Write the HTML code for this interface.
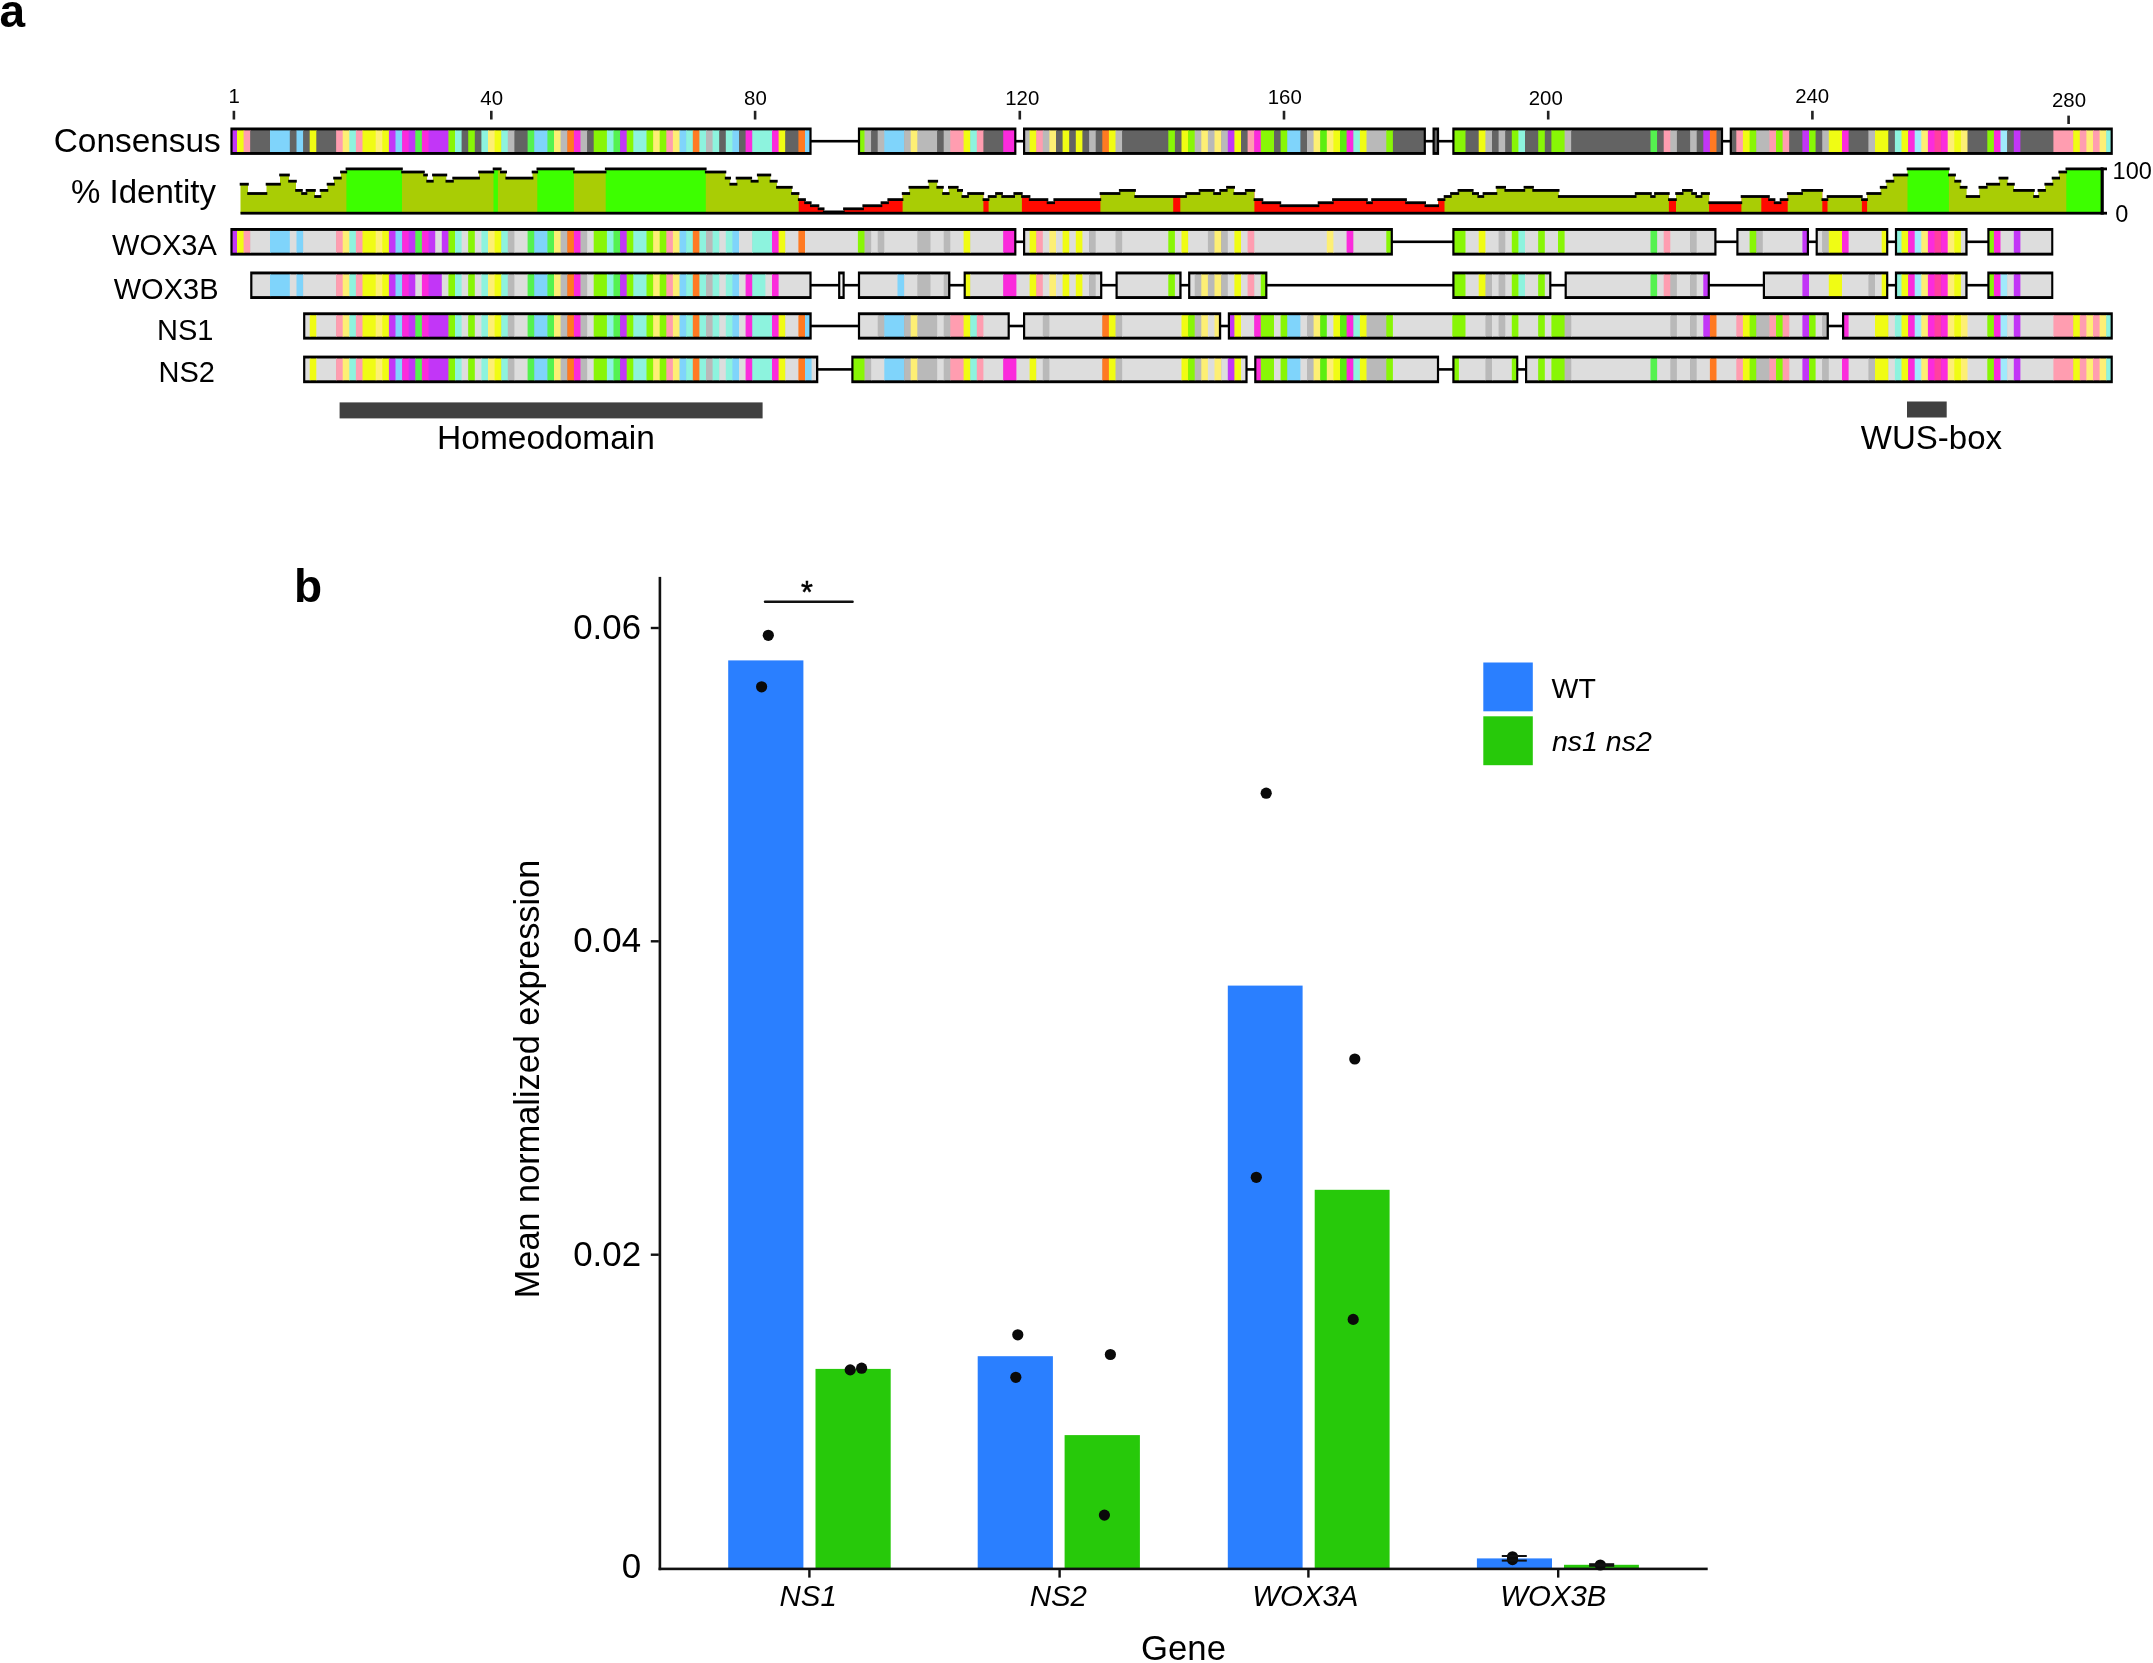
<!DOCTYPE html>
<html lang="en"><head><meta charset="utf-8"><title>Figure</title>
<style>html,body{margin:0;padding:0;background:#fff}svg{display:block;filter:blur(0.45px)}text{font-family:"Liberation Sans", Arial, Helvetica, sans-serif;fill:#000}</style>
</head><body>
<svg width="2153" height="1663" viewBox="0 0 2153 1663">
<rect width="2153" height="1663" fill="#fff"/>
<text x="-0.4" y="27.2" font-size="46" font-weight="bold">a</text>
<text x="234.2" y="103" font-size="20.4" text-anchor="middle">1</text>
<rect x="232.6" y="110.8" width="2.6" height="8.7" fill="#222"/>
<text x="491.7" y="105" font-size="20.4" text-anchor="middle">40</text>
<rect x="490" y="110.8" width="2.6" height="8.7" fill="#222"/>
<text x="755.4" y="105" font-size="20.4" text-anchor="middle">80</text>
<rect x="753.8" y="110.8" width="2.6" height="8.7" fill="#222"/>
<text x="1022.3" y="105.4" font-size="20.4" text-anchor="middle">120</text>
<rect x="1018.5" y="110.8" width="2.6" height="8.7" fill="#222"/>
<text x="1284.8" y="103.5" font-size="20.4" text-anchor="middle">160</text>
<rect x="1282.7" y="110.8" width="2.6" height="8.7" fill="#222"/>
<text x="1545.8" y="105" font-size="20.4" text-anchor="middle">200</text>
<rect x="1546.9" y="110.8" width="2.6" height="8.7" fill="#222"/>
<text x="1812.2" y="102.7" font-size="20.4" text-anchor="middle">240</text>
<rect x="1811.1" y="110.8" width="2.6" height="8.7" fill="#222"/>
<text x="2069" y="107.2" font-size="20.4" text-anchor="middle">280</text>
<rect x="2067.3" y="115.6" width="2.6" height="8.4" fill="#222"/>
<text x="220.8" y="151.6" font-size="33.4" text-anchor="end">Consensus</text>
<text x="216" y="202.6" font-size="33" text-anchor="end">% Identity</text>
<text x="216.8" y="255.4" font-size="29" text-anchor="end">WOX3A</text>
<text x="218.5" y="298.6" font-size="29" text-anchor="end">WOX3B</text>
<text x="213.5" y="339.6" font-size="29" text-anchor="end">NS1</text>
<text x="215" y="381.6" font-size="29" text-anchor="end">NS2</text>
<g>
<rect x="810.6" y="139.9" width="48.2" height="2.6" fill="#000"/>
<rect x="1015.4" y="139.9" width="8.6" height="2.6" fill="#000"/>
<rect x="1424.9" y="139.9" width="8.6" height="2.6" fill="#000"/>
<rect x="1438.1" y="139.9" width="15.2" height="2.6" fill="#000"/>
<rect x="1722.1" y="139.9" width="8.6" height="2.6" fill="#000"/>
<rect x="230.4" y="127.5" width="581.2" height="27.4" fill="#000"/>
<rect x="232.6" y="130.4" width="5.1" height="21.6" fill="#c236f7"/>
<rect x="237" y="130.4" width="7.3" height="21.6" fill="#f0fc14"/>
<rect x="243.6" y="130.4" width="7.3" height="21.6" fill="#ff9db0"/>
<rect x="250.2" y="130.4" width="20.5" height="21.6" fill="#636363"/>
<rect x="270" y="130.4" width="20.5" height="21.6" fill="#7fd4fb"/>
<rect x="289.8" y="130.4" width="7.3" height="21.6" fill="#636363"/>
<rect x="296.5" y="130.4" width="7.3" height="21.6" fill="#7fd4fb"/>
<rect x="303.1" y="130.4" width="7.3" height="21.6" fill="#636363"/>
<rect x="309.7" y="130.4" width="7.3" height="21.6" fill="#f0fc14"/>
<rect x="316.3" y="130.4" width="20.5" height="21.6" fill="#636363"/>
<rect x="336.1" y="130.4" width="7.3" height="21.6" fill="#ff9db0"/>
<rect x="342.7" y="130.4" width="7.3" height="21.6" fill="#fdef74"/>
<rect x="349.3" y="130.4" width="7.3" height="21.6" fill="#8df3de"/>
<rect x="355.9" y="130.4" width="7.3" height="21.6" fill="#ff9db0"/>
<rect x="362.5" y="130.4" width="13.9" height="21.6" fill="#f0fc14"/>
<rect x="375.7" y="130.4" width="7.3" height="21.6" fill="#fdef74"/>
<rect x="382.3" y="130.4" width="7.3" height="21.6" fill="#f0fc14"/>
<rect x="388.9" y="130.4" width="7.3" height="21.6" fill="#c236f7"/>
<rect x="395.5" y="130.4" width="7.3" height="21.6" fill="#7fd4fb"/>
<rect x="402.1" y="130.4" width="7.3" height="21.6" fill="#fb2bdc"/>
<rect x="408.7" y="130.4" width="7.3" height="21.6" fill="#c236f7"/>
<rect x="415.3" y="130.4" width="7.3" height="21.6" fill="#55f24f"/>
<rect x="421.9" y="130.4" width="7.3" height="21.6" fill="#fb2bdc"/>
<rect x="428.6" y="130.4" width="20.5" height="21.6" fill="#c236f7"/>
<rect x="448.4" y="130.4" width="7.3" height="21.6" fill="#88f606"/>
<rect x="455" y="130.4" width="7.3" height="21.6" fill="#8df3de"/>
<rect x="461.6" y="130.4" width="7.3" height="21.6" fill="#636363"/>
<rect x="468.2" y="130.4" width="7.3" height="21.6" fill="#88f606"/>
<rect x="474.8" y="130.4" width="7.3" height="21.6" fill="#636363"/>
<rect x="481.4" y="130.4" width="7.3" height="21.6" fill="#8df3de"/>
<rect x="488" y="130.4" width="7.3" height="21.6" fill="#fdef74"/>
<rect x="494.6" y="130.4" width="7.3" height="21.6" fill="#f0fc14"/>
<rect x="501.2" y="130.4" width="7.3" height="21.6" fill="#8df3de"/>
<rect x="507.8" y="130.4" width="7.3" height="21.6" fill="#b9b9b9"/>
<rect x="514.4" y="130.4" width="13.9" height="21.6" fill="#636363"/>
<rect x="527.6" y="130.4" width="7.3" height="21.6" fill="#55f24f"/>
<rect x="534.2" y="130.4" width="13.9" height="21.6" fill="#7fd4fb"/>
<rect x="547.4" y="130.4" width="7.3" height="21.6" fill="#55f24f"/>
<rect x="554" y="130.4" width="7.3" height="21.6" fill="#fdef74"/>
<rect x="560.6" y="130.4" width="7.3" height="21.6" fill="#b9b9b9"/>
<rect x="567.3" y="130.4" width="7.3" height="21.6" fill="#ff7a22"/>
<rect x="573.9" y="130.4" width="7.3" height="21.6" fill="#fb2bdc"/>
<rect x="580.5" y="130.4" width="7.3" height="21.6" fill="#b9b9b9"/>
<rect x="587.1" y="130.4" width="7.3" height="21.6" fill="#636363"/>
<rect x="593.7" y="130.4" width="13.9" height="21.6" fill="#88f606"/>
<rect x="606.9" y="130.4" width="7.3" height="21.6" fill="#8df3de"/>
<rect x="613.5" y="130.4" width="7.3" height="21.6" fill="#55f24f"/>
<rect x="620.1" y="130.4" width="7.3" height="21.6" fill="#c236f7"/>
<rect x="626.7" y="130.4" width="7.3" height="21.6" fill="#88f606"/>
<rect x="633.3" y="130.4" width="13.9" height="21.6" fill="#8df3de"/>
<rect x="646.5" y="130.4" width="7.3" height="21.6" fill="#88f606"/>
<rect x="653.1" y="130.4" width="7.3" height="21.6" fill="#fdef74"/>
<rect x="659.7" y="130.4" width="7.3" height="21.6" fill="#88f606"/>
<rect x="666.3" y="130.4" width="7.3" height="21.6" fill="#ff9db0"/>
<rect x="672.9" y="130.4" width="7.3" height="21.6" fill="#fdef74"/>
<rect x="679.5" y="130.4" width="7.3" height="21.6" fill="#7fd4fb"/>
<rect x="686.1" y="130.4" width="7.3" height="21.6" fill="#8df3de"/>
<rect x="692.8" y="130.4" width="7.3" height="21.6" fill="#ff7a22"/>
<rect x="699.4" y="130.4" width="7.3" height="21.6" fill="#8df3de"/>
<rect x="706" y="130.4" width="7.3" height="21.6" fill="#b9b9b9"/>
<rect x="712.6" y="130.4" width="7.3" height="21.6" fill="#8df3de"/>
<rect x="719.2" y="130.4" width="7.3" height="21.6" fill="#636363"/>
<rect x="725.8" y="130.4" width="7.3" height="21.6" fill="#8df3de"/>
<rect x="732.4" y="130.4" width="7.3" height="21.6" fill="#7fd4fb"/>
<rect x="739" y="130.4" width="7.3" height="21.6" fill="#636363"/>
<rect x="745.6" y="130.4" width="7.3" height="21.6" fill="#fb2bdc"/>
<rect x="752.2" y="130.4" width="20.5" height="21.6" fill="#8df3de"/>
<rect x="772" y="130.4" width="7.3" height="21.6" fill="#fb2bdc"/>
<rect x="778.6" y="130.4" width="7.3" height="21.6" fill="#f0fc14"/>
<rect x="785.2" y="130.4" width="13.9" height="21.6" fill="#636363"/>
<rect x="798.4" y="130.4" width="7.3" height="21.6" fill="#ff7a22"/>
<rect x="805" y="130.4" width="4.4" height="21.6" fill="#7fd4fb"/>
<rect x="857.9" y="127.5" width="158.5" height="27.4" fill="#000"/>
<rect x="860.1" y="130.4" width="5.1" height="21.6" fill="#88f606"/>
<rect x="864.5" y="130.4" width="7.3" height="21.6" fill="#b9b9b9"/>
<rect x="871.1" y="130.4" width="7.3" height="21.6" fill="#636363"/>
<rect x="877.7" y="130.4" width="7.3" height="21.6" fill="#b9b9b9"/>
<rect x="884.3" y="130.4" width="20.5" height="21.6" fill="#7fd4fb"/>
<rect x="904.1" y="130.4" width="7.3" height="21.6" fill="#b9b9b9"/>
<rect x="910.7" y="130.4" width="7.3" height="21.6" fill="#fdef74"/>
<rect x="917.3" y="130.4" width="20.5" height="21.6" fill="#b9b9b9"/>
<rect x="937.1" y="130.4" width="7.3" height="21.6" fill="#636363"/>
<rect x="943.7" y="130.4" width="7.3" height="21.6" fill="#b9b9b9"/>
<rect x="950.3" y="130.4" width="13.9" height="21.6" fill="#ff9db0"/>
<rect x="963.6" y="130.4" width="7.3" height="21.6" fill="#f0fc14"/>
<rect x="970.2" y="130.4" width="7.3" height="21.6" fill="#8df3de"/>
<rect x="976.8" y="130.4" width="7.3" height="21.6" fill="#ff9db0"/>
<rect x="983.4" y="130.4" width="20.5" height="21.6" fill="#636363"/>
<rect x="1003.2" y="130.4" width="11" height="21.6" fill="#fb2bdc"/>
<rect x="1023" y="127.5" width="402.9" height="27.4" fill="#000"/>
<rect x="1025.2" y="130.4" width="5.1" height="21.6" fill="#b9b9b9"/>
<rect x="1029.6" y="130.4" width="7.3" height="21.6" fill="#f0fc14"/>
<rect x="1036.2" y="130.4" width="7.3" height="21.6" fill="#ff9db0"/>
<rect x="1042.8" y="130.4" width="7.3" height="21.6" fill="#b9b9b9"/>
<rect x="1049.4" y="130.4" width="7.3" height="21.6" fill="#fdef74"/>
<rect x="1056" y="130.4" width="7.3" height="21.6" fill="#636363"/>
<rect x="1062.6" y="130.4" width="7.3" height="21.6" fill="#f0fc14"/>
<rect x="1069.2" y="130.4" width="7.3" height="21.6" fill="#636363"/>
<rect x="1075.8" y="130.4" width="7.3" height="21.6" fill="#f0fc14"/>
<rect x="1082.4" y="130.4" width="7.3" height="21.6" fill="#636363"/>
<rect x="1089.1" y="130.4" width="7.3" height="21.6" fill="#b9b9b9"/>
<rect x="1095.7" y="130.4" width="7.3" height="21.6" fill="#636363"/>
<rect x="1102.3" y="130.4" width="7.3" height="21.6" fill="#ff7a22"/>
<rect x="1108.9" y="130.4" width="7.3" height="21.6" fill="#f0fc14"/>
<rect x="1115.5" y="130.4" width="7.3" height="21.6" fill="#b9b9b9"/>
<rect x="1122.1" y="130.4" width="46.9" height="21.6" fill="#636363"/>
<rect x="1168.3" y="130.4" width="7.3" height="21.6" fill="#88f606"/>
<rect x="1174.9" y="130.4" width="7.3" height="21.6" fill="#636363"/>
<rect x="1181.5" y="130.4" width="7.3" height="21.6" fill="#f0fc14"/>
<rect x="1188.1" y="130.4" width="7.3" height="21.6" fill="#88f606"/>
<rect x="1194.7" y="130.4" width="7.3" height="21.6" fill="#b9b9b9"/>
<rect x="1201.3" y="130.4" width="7.3" height="21.6" fill="#fdef74"/>
<rect x="1207.9" y="130.4" width="7.3" height="21.6" fill="#b9b9b9"/>
<rect x="1214.5" y="130.4" width="7.3" height="21.6" fill="#fdef74"/>
<rect x="1221.2" y="130.4" width="7.3" height="21.6" fill="#b9b9b9"/>
<rect x="1227.8" y="130.4" width="7.3" height="21.6" fill="#c236f7"/>
<rect x="1234.4" y="130.4" width="7.3" height="21.6" fill="#f0fc14"/>
<rect x="1241" y="130.4" width="7.3" height="21.6" fill="#636363"/>
<rect x="1247.6" y="130.4" width="7.3" height="21.6" fill="#ff9db0"/>
<rect x="1254.2" y="130.4" width="7.3" height="21.6" fill="#fb2bdc"/>
<rect x="1260.8" y="130.4" width="13.9" height="21.6" fill="#88f606"/>
<rect x="1274" y="130.4" width="7.3" height="21.6" fill="#636363"/>
<rect x="1280.6" y="130.4" width="7.3" height="21.6" fill="#88f606"/>
<rect x="1287.2" y="130.4" width="13.9" height="21.6" fill="#7fd4fb"/>
<rect x="1300.4" y="130.4" width="7.3" height="21.6" fill="#636363"/>
<rect x="1307" y="130.4" width="7.3" height="21.6" fill="#b9b9b9"/>
<rect x="1313.6" y="130.4" width="7.3" height="21.6" fill="#fdef74"/>
<rect x="1320.2" y="130.4" width="7.3" height="21.6" fill="#5cee10"/>
<rect x="1326.8" y="130.4" width="7.3" height="21.6" fill="#fdef74"/>
<rect x="1333.4" y="130.4" width="7.3" height="21.6" fill="#f0fc14"/>
<rect x="1340" y="130.4" width="7.3" height="21.6" fill="#5cee10"/>
<rect x="1346.6" y="130.4" width="7.3" height="21.6" fill="#fb2bdc"/>
<rect x="1353.3" y="130.4" width="7.3" height="21.6" fill="#8df3de"/>
<rect x="1359.9" y="130.4" width="7.3" height="21.6" fill="#f0fc14"/>
<rect x="1366.5" y="130.4" width="20.5" height="21.6" fill="#b9b9b9"/>
<rect x="1386.3" y="130.4" width="7.3" height="21.6" fill="#88f606"/>
<rect x="1392.9" y="130.4" width="30.8" height="21.6" fill="#636363"/>
<rect x="1432.5" y="127.5" width="6.6" height="27.4" fill="#000"/>
<rect x="1434.7" y="130.4" width="2.2" height="21.6" fill="#636363"/>
<rect x="1452.3" y="127.5" width="270.8" height="27.4" fill="#000"/>
<rect x="1454.5" y="130.4" width="11.7" height="21.6" fill="#88f606"/>
<rect x="1465.5" y="130.4" width="13.9" height="21.6" fill="#636363"/>
<rect x="1478.7" y="130.4" width="7.3" height="21.6" fill="#f0fc14"/>
<rect x="1485.4" y="130.4" width="7.3" height="21.6" fill="#b9b9b9"/>
<rect x="1492" y="130.4" width="7.3" height="21.6" fill="#636363"/>
<rect x="1498.6" y="130.4" width="7.3" height="21.6" fill="#b9b9b9"/>
<rect x="1505.2" y="130.4" width="7.3" height="21.6" fill="#636363"/>
<rect x="1511.8" y="130.4" width="7.3" height="21.6" fill="#88f606"/>
<rect x="1518.4" y="130.4" width="7.3" height="21.6" fill="#8df3de"/>
<rect x="1525" y="130.4" width="13.9" height="21.6" fill="#636363"/>
<rect x="1538.2" y="130.4" width="7.3" height="21.6" fill="#88f606"/>
<rect x="1544.8" y="130.4" width="7.3" height="21.6" fill="#636363"/>
<rect x="1551.4" y="130.4" width="13.9" height="21.6" fill="#88f606"/>
<rect x="1564.6" y="130.4" width="7.3" height="21.6" fill="#b9b9b9"/>
<rect x="1571.2" y="130.4" width="80" height="21.6" fill="#636363"/>
<rect x="1650.5" y="130.4" width="7.3" height="21.6" fill="#55f24f"/>
<rect x="1657.1" y="130.4" width="7.3" height="21.6" fill="#636363"/>
<rect x="1663.7" y="130.4" width="7.3" height="21.6" fill="#ff9db0"/>
<rect x="1670.3" y="130.4" width="7.3" height="21.6" fill="#b9b9b9"/>
<rect x="1676.9" y="130.4" width="13.9" height="21.6" fill="#636363"/>
<rect x="1690.1" y="130.4" width="7.3" height="21.6" fill="#b9b9b9"/>
<rect x="1696.7" y="130.4" width="7.3" height="21.6" fill="#636363"/>
<rect x="1703.3" y="130.4" width="7.3" height="21.6" fill="#c236f7"/>
<rect x="1709.9" y="130.4" width="7.3" height="21.6" fill="#ff7a22"/>
<rect x="1716.5" y="130.4" width="4.4" height="21.6" fill="#636363"/>
<rect x="1729.7" y="127.5" width="383.1" height="27.4" fill="#000"/>
<rect x="1731.9" y="130.4" width="5.1" height="21.6" fill="#636363"/>
<rect x="1736.3" y="130.4" width="7.3" height="21.6" fill="#ff9db0"/>
<rect x="1742.9" y="130.4" width="7.3" height="21.6" fill="#f0fc14"/>
<rect x="1749.6" y="130.4" width="7.3" height="21.6" fill="#88f606"/>
<rect x="1756.2" y="130.4" width="13.9" height="21.6" fill="#b9b9b9"/>
<rect x="1769.4" y="130.4" width="7.3" height="21.6" fill="#ff9db0"/>
<rect x="1776" y="130.4" width="7.3" height="21.6" fill="#88f606"/>
<rect x="1782.6" y="130.4" width="7.3" height="21.6" fill="#ff9db0"/>
<rect x="1789.2" y="130.4" width="13.9" height="21.6" fill="#636363"/>
<rect x="1802.4" y="130.4" width="7.3" height="21.6" fill="#c236f7"/>
<rect x="1809" y="130.4" width="7.3" height="21.6" fill="#88f606"/>
<rect x="1815.6" y="130.4" width="7.3" height="21.6" fill="#636363"/>
<rect x="1822.2" y="130.4" width="7.3" height="21.6" fill="#b9b9b9"/>
<rect x="1828.8" y="130.4" width="13.9" height="21.6" fill="#f0fc14"/>
<rect x="1842" y="130.4" width="7.3" height="21.6" fill="#fb2bdc"/>
<rect x="1848.6" y="130.4" width="20.5" height="21.6" fill="#636363"/>
<rect x="1868.4" y="130.4" width="7.3" height="21.6" fill="#b9b9b9"/>
<rect x="1875" y="130.4" width="13.9" height="21.6" fill="#f0fc14"/>
<rect x="1888.3" y="130.4" width="7.3" height="21.6" fill="#636363"/>
<rect x="1894.9" y="130.4" width="7.3" height="21.6" fill="#8df3de"/>
<rect x="1901.5" y="130.4" width="7.3" height="21.6" fill="#f0fc14"/>
<rect x="1908.1" y="130.4" width="7.3" height="21.6" fill="#fb2bdc"/>
<rect x="1914.7" y="130.4" width="7.3" height="21.6" fill="#9feafc"/>
<rect x="1921.3" y="130.4" width="7.3" height="21.6" fill="#fdef74"/>
<rect x="1927.9" y="130.4" width="7.3" height="21.6" fill="#fb2bdc"/>
<rect x="1934.5" y="130.4" width="7.3" height="21.6" fill="#ff40a0"/>
<rect x="1941.1" y="130.4" width="7.3" height="21.6" fill="#fb2bdc"/>
<rect x="1947.7" y="130.4" width="7.3" height="21.6" fill="#fdef74"/>
<rect x="1954.3" y="130.4" width="7.3" height="21.6" fill="#f0fc14"/>
<rect x="1960.9" y="130.4" width="7.3" height="21.6" fill="#fdef74"/>
<rect x="1967.5" y="130.4" width="20.5" height="21.6" fill="#636363"/>
<rect x="1987.3" y="130.4" width="7.3" height="21.6" fill="#88f606"/>
<rect x="1993.9" y="130.4" width="7.3" height="21.6" fill="#fb2bdc"/>
<rect x="2000.5" y="130.4" width="7.3" height="21.6" fill="#9feafc"/>
<rect x="2007.1" y="130.4" width="7.3" height="21.6" fill="#636363"/>
<rect x="2013.8" y="130.4" width="7.3" height="21.6" fill="#c236f7"/>
<rect x="2020.4" y="130.4" width="33.7" height="21.6" fill="#636363"/>
<rect x="2053.4" y="130.4" width="20.5" height="21.6" fill="#ff9db0"/>
<rect x="2073.2" y="130.4" width="7.3" height="21.6" fill="#f0fc14"/>
<rect x="2079.8" y="130.4" width="7.3" height="21.6" fill="#ff9db0"/>
<rect x="2086.4" y="130.4" width="7.3" height="21.6" fill="#fdef74"/>
<rect x="2093" y="130.4" width="7.3" height="21.6" fill="#ff9db0"/>
<rect x="2099.6" y="130.4" width="7.3" height="21.6" fill="#fdef74"/>
<rect x="2106.2" y="130.4" width="4.4" height="21.6" fill="#8df3de"/>
</g>
<g>
<rect x="1015.4" y="240.5" width="8.6" height="2.6" fill="#000"/>
<rect x="1391.9" y="240.5" width="61.4" height="2.6" fill="#000"/>
<rect x="1715.5" y="240.5" width="21.8" height="2.6" fill="#000"/>
<rect x="1808" y="240.5" width="8.6" height="2.6" fill="#000"/>
<rect x="1887.3" y="240.5" width="8.6" height="2.6" fill="#000"/>
<rect x="1966.5" y="240.5" width="21.8" height="2.6" fill="#000"/>
<rect x="230.4" y="228" width="786" height="27.6" fill="#000"/>
<rect x="232.6" y="230.9" width="5.1" height="21.8" fill="#c236f7"/>
<rect x="237" y="230.9" width="7.3" height="21.8" fill="#f0fc14"/>
<rect x="243.6" y="230.9" width="7.3" height="21.8" fill="#ff9db0"/>
<rect x="250.2" y="230.9" width="20.5" height="21.8" fill="#dddddd"/>
<rect x="270" y="230.9" width="20.5" height="21.8" fill="#7fd4fb"/>
<rect x="289.8" y="230.9" width="7.3" height="21.8" fill="#dddddd"/>
<rect x="296.5" y="230.9" width="7.3" height="21.8" fill="#7fd4fb"/>
<rect x="303.1" y="230.9" width="33.7" height="21.8" fill="#dddddd"/>
<rect x="336.1" y="230.9" width="7.3" height="21.8" fill="#ff9db0"/>
<rect x="342.7" y="230.9" width="7.3" height="21.8" fill="#fdef74"/>
<rect x="349.3" y="230.9" width="7.3" height="21.8" fill="#8df3de"/>
<rect x="355.9" y="230.9" width="7.3" height="21.8" fill="#ff9db0"/>
<rect x="362.5" y="230.9" width="13.9" height="21.8" fill="#f0fc14"/>
<rect x="375.7" y="230.9" width="7.3" height="21.8" fill="#fdef74"/>
<rect x="382.3" y="230.9" width="7.3" height="21.8" fill="#f0fc14"/>
<rect x="388.9" y="230.9" width="7.3" height="21.8" fill="#c236f7"/>
<rect x="395.5" y="230.9" width="7.3" height="21.8" fill="#7fd4fb"/>
<rect x="402.1" y="230.9" width="7.3" height="21.8" fill="#fb2bdc"/>
<rect x="408.7" y="230.9" width="7.3" height="21.8" fill="#c236f7"/>
<rect x="415.3" y="230.9" width="7.3" height="21.8" fill="#55f24f"/>
<rect x="421.9" y="230.9" width="7.3" height="21.8" fill="#fb2bdc"/>
<rect x="428.6" y="230.9" width="7.3" height="21.8" fill="#c236f7"/>
<rect x="435.2" y="230.9" width="7.3" height="21.8" fill="#dddddd"/>
<rect x="441.8" y="230.9" width="7.3" height="21.8" fill="#c236f7"/>
<rect x="448.4" y="230.9" width="7.3" height="21.8" fill="#88f606"/>
<rect x="455" y="230.9" width="7.3" height="21.8" fill="#8df3de"/>
<rect x="461.6" y="230.9" width="7.3" height="21.8" fill="#dddddd"/>
<rect x="468.2" y="230.9" width="7.3" height="21.8" fill="#88f606"/>
<rect x="474.8" y="230.9" width="7.3" height="21.8" fill="#dddddd"/>
<rect x="481.4" y="230.9" width="7.3" height="21.8" fill="#8df3de"/>
<rect x="488" y="230.9" width="7.3" height="21.8" fill="#fdef74"/>
<rect x="494.6" y="230.9" width="7.3" height="21.8" fill="#f0fc14"/>
<rect x="501.2" y="230.9" width="7.3" height="21.8" fill="#8df3de"/>
<rect x="507.8" y="230.9" width="7.3" height="21.8" fill="#b9b9b9"/>
<rect x="514.4" y="230.9" width="13.9" height="21.8" fill="#dddddd"/>
<rect x="527.6" y="230.9" width="7.3" height="21.8" fill="#55f24f"/>
<rect x="534.2" y="230.9" width="13.9" height="21.8" fill="#7fd4fb"/>
<rect x="547.4" y="230.9" width="7.3" height="21.8" fill="#55f24f"/>
<rect x="554" y="230.9" width="7.3" height="21.8" fill="#fdef74"/>
<rect x="560.6" y="230.9" width="7.3" height="21.8" fill="#b9b9b9"/>
<rect x="567.3" y="230.9" width="7.3" height="21.8" fill="#ff7a22"/>
<rect x="573.9" y="230.9" width="7.3" height="21.8" fill="#fb2bdc"/>
<rect x="580.5" y="230.9" width="7.3" height="21.8" fill="#b9b9b9"/>
<rect x="587.1" y="230.9" width="7.3" height="21.8" fill="#dddddd"/>
<rect x="593.7" y="230.9" width="13.9" height="21.8" fill="#88f606"/>
<rect x="606.9" y="230.9" width="7.3" height="21.8" fill="#8df3de"/>
<rect x="613.5" y="230.9" width="7.3" height="21.8" fill="#55f24f"/>
<rect x="620.1" y="230.9" width="7.3" height="21.8" fill="#c236f7"/>
<rect x="626.7" y="230.9" width="7.3" height="21.8" fill="#88f606"/>
<rect x="633.3" y="230.9" width="13.9" height="21.8" fill="#8df3de"/>
<rect x="646.5" y="230.9" width="7.3" height="21.8" fill="#88f606"/>
<rect x="653.1" y="230.9" width="7.3" height="21.8" fill="#fdef74"/>
<rect x="659.7" y="230.9" width="7.3" height="21.8" fill="#88f606"/>
<rect x="666.3" y="230.9" width="7.3" height="21.8" fill="#ff9db0"/>
<rect x="672.9" y="230.9" width="7.3" height="21.8" fill="#fdef74"/>
<rect x="679.5" y="230.9" width="7.3" height="21.8" fill="#7fd4fb"/>
<rect x="686.1" y="230.9" width="7.3" height="21.8" fill="#8df3de"/>
<rect x="692.8" y="230.9" width="7.3" height="21.8" fill="#ff7a22"/>
<rect x="699.4" y="230.9" width="7.3" height="21.8" fill="#8df3de"/>
<rect x="706" y="230.9" width="7.3" height="21.8" fill="#b9b9b9"/>
<rect x="712.6" y="230.9" width="7.3" height="21.8" fill="#8df3de"/>
<rect x="719.2" y="230.9" width="7.3" height="21.8" fill="#dddddd"/>
<rect x="725.8" y="230.9" width="7.3" height="21.8" fill="#8df3de"/>
<rect x="732.4" y="230.9" width="7.3" height="21.8" fill="#7fd4fb"/>
<rect x="739" y="230.9" width="13.9" height="21.8" fill="#dddddd"/>
<rect x="752.2" y="230.9" width="20.5" height="21.8" fill="#8df3de"/>
<rect x="772" y="230.9" width="7.3" height="21.8" fill="#fb2bdc"/>
<rect x="778.6" y="230.9" width="7.3" height="21.8" fill="#f0fc14"/>
<rect x="785.2" y="230.9" width="13.9" height="21.8" fill="#dddddd"/>
<rect x="798.4" y="230.9" width="7.3" height="21.8" fill="#ff7a22"/>
<rect x="805" y="230.9" width="53.5" height="21.8" fill="#dddddd"/>
<rect x="857.9" y="230.9" width="7.3" height="21.8" fill="#88f606"/>
<rect x="864.5" y="230.9" width="7.3" height="21.8" fill="#b9b9b9"/>
<rect x="871.1" y="230.9" width="7.3" height="21.8" fill="#dddddd"/>
<rect x="877.7" y="230.9" width="7.3" height="21.8" fill="#b9b9b9"/>
<rect x="884.3" y="230.9" width="33.7" height="21.8" fill="#dddddd"/>
<rect x="917.3" y="230.9" width="13.9" height="21.8" fill="#b9b9b9"/>
<rect x="930.5" y="230.9" width="13.9" height="21.8" fill="#dddddd"/>
<rect x="943.7" y="230.9" width="7.3" height="21.8" fill="#b9b9b9"/>
<rect x="950.3" y="230.9" width="13.9" height="21.8" fill="#dddddd"/>
<rect x="963.6" y="230.9" width="7.3" height="21.8" fill="#f0fc14"/>
<rect x="970.2" y="230.9" width="33.7" height="21.8" fill="#dddddd"/>
<rect x="1003.2" y="230.9" width="11" height="21.8" fill="#fb2bdc"/>
<rect x="1023" y="228" width="369.9" height="27.6" fill="#000"/>
<rect x="1025.2" y="230.9" width="5.1" height="21.8" fill="#dddddd"/>
<rect x="1029.6" y="230.9" width="7.3" height="21.8" fill="#f0fc14"/>
<rect x="1036.2" y="230.9" width="7.3" height="21.8" fill="#ff9db0"/>
<rect x="1042.8" y="230.9" width="7.3" height="21.8" fill="#dddddd"/>
<rect x="1049.4" y="230.9" width="7.3" height="21.8" fill="#fdef74"/>
<rect x="1056" y="230.9" width="7.3" height="21.8" fill="#dddddd"/>
<rect x="1062.6" y="230.9" width="7.3" height="21.8" fill="#f0fc14"/>
<rect x="1069.2" y="230.9" width="7.3" height="21.8" fill="#dddddd"/>
<rect x="1075.8" y="230.9" width="7.3" height="21.8" fill="#f0fc14"/>
<rect x="1082.4" y="230.9" width="7.3" height="21.8" fill="#dddddd"/>
<rect x="1089.1" y="230.9" width="7.3" height="21.8" fill="#b9b9b9"/>
<rect x="1095.7" y="230.9" width="20.5" height="21.8" fill="#dddddd"/>
<rect x="1115.5" y="230.9" width="7.3" height="21.8" fill="#b9b9b9"/>
<rect x="1122.1" y="230.9" width="46.9" height="21.8" fill="#dddddd"/>
<rect x="1168.3" y="230.9" width="7.3" height="21.8" fill="#88f606"/>
<rect x="1174.9" y="230.9" width="7.3" height="21.8" fill="#dddddd"/>
<rect x="1181.5" y="230.9" width="7.3" height="21.8" fill="#f0fc14"/>
<rect x="1188.1" y="230.9" width="20.5" height="21.8" fill="#dddddd"/>
<rect x="1207.9" y="230.9" width="7.3" height="21.8" fill="#b9b9b9"/>
<rect x="1214.5" y="230.9" width="7.3" height="21.8" fill="#fdef74"/>
<rect x="1221.2" y="230.9" width="7.3" height="21.8" fill="#b9b9b9"/>
<rect x="1227.8" y="230.9" width="7.3" height="21.8" fill="#dddddd"/>
<rect x="1234.4" y="230.9" width="7.3" height="21.8" fill="#f0fc14"/>
<rect x="1241" y="230.9" width="7.3" height="21.8" fill="#dddddd"/>
<rect x="1247.6" y="230.9" width="7.3" height="21.8" fill="#ff9db0"/>
<rect x="1254.2" y="230.9" width="73.4" height="21.8" fill="#dddddd"/>
<rect x="1326.8" y="230.9" width="7.3" height="21.8" fill="#fdef74"/>
<rect x="1333.4" y="230.9" width="13.9" height="21.8" fill="#dddddd"/>
<rect x="1346.6" y="230.9" width="7.3" height="21.8" fill="#fb2bdc"/>
<rect x="1353.3" y="230.9" width="33.7" height="21.8" fill="#dddddd"/>
<rect x="1386.3" y="230.9" width="4.4" height="21.8" fill="#88f606"/>
<rect x="1452.3" y="228" width="264.2" height="27.6" fill="#000"/>
<rect x="1454.5" y="230.9" width="11.7" height="21.8" fill="#88f606"/>
<rect x="1465.5" y="230.9" width="13.9" height="21.8" fill="#dddddd"/>
<rect x="1478.7" y="230.9" width="7.3" height="21.8" fill="#f0fc14"/>
<rect x="1485.4" y="230.9" width="13.9" height="21.8" fill="#dddddd"/>
<rect x="1498.6" y="230.9" width="7.3" height="21.8" fill="#b9b9b9"/>
<rect x="1505.2" y="230.9" width="7.3" height="21.8" fill="#dddddd"/>
<rect x="1511.8" y="230.9" width="7.3" height="21.8" fill="#88f606"/>
<rect x="1518.4" y="230.9" width="7.3" height="21.8" fill="#8df3de"/>
<rect x="1525" y="230.9" width="13.9" height="21.8" fill="#dddddd"/>
<rect x="1538.2" y="230.9" width="7.3" height="21.8" fill="#88f606"/>
<rect x="1544.8" y="230.9" width="13.9" height="21.8" fill="#dddddd"/>
<rect x="1558" y="230.9" width="7.3" height="21.8" fill="#88f606"/>
<rect x="1564.6" y="230.9" width="86.6" height="21.8" fill="#dddddd"/>
<rect x="1650.5" y="230.9" width="7.3" height="21.8" fill="#55f24f"/>
<rect x="1657.1" y="230.9" width="7.3" height="21.8" fill="#dddddd"/>
<rect x="1663.7" y="230.9" width="7.3" height="21.8" fill="#ff9db0"/>
<rect x="1670.3" y="230.9" width="20.5" height="21.8" fill="#dddddd"/>
<rect x="1690.1" y="230.9" width="7.3" height="21.8" fill="#b9b9b9"/>
<rect x="1696.7" y="230.9" width="17.6" height="21.8" fill="#dddddd"/>
<rect x="1736.3" y="228" width="72.7" height="27.6" fill="#000"/>
<rect x="1738.5" y="230.9" width="11.7" height="21.8" fill="#dddddd"/>
<rect x="1749.6" y="230.9" width="7.3" height="21.8" fill="#88f606"/>
<rect x="1756.2" y="230.9" width="7.3" height="21.8" fill="#b9b9b9"/>
<rect x="1762.8" y="230.9" width="40.3" height="21.8" fill="#dddddd"/>
<rect x="1802.4" y="230.9" width="4.4" height="21.8" fill="#c236f7"/>
<rect x="1815.6" y="228" width="72.7" height="27.6" fill="#000"/>
<rect x="1817.8" y="230.9" width="5.1" height="21.8" fill="#dddddd"/>
<rect x="1822.2" y="230.9" width="7.3" height="21.8" fill="#b9b9b9"/>
<rect x="1828.8" y="230.9" width="13.9" height="21.8" fill="#f0fc14"/>
<rect x="1842" y="230.9" width="7.3" height="21.8" fill="#fb2bdc"/>
<rect x="1848.6" y="230.9" width="33.7" height="21.8" fill="#dddddd"/>
<rect x="1881.7" y="230.9" width="4.4" height="21.8" fill="#f0fc14"/>
<rect x="1894.9" y="228" width="72.7" height="27.6" fill="#000"/>
<rect x="1897.1" y="230.9" width="5.1" height="21.8" fill="#8df3de"/>
<rect x="1901.5" y="230.9" width="7.3" height="21.8" fill="#f0fc14"/>
<rect x="1908.1" y="230.9" width="7.3" height="21.8" fill="#fb2bdc"/>
<rect x="1914.7" y="230.9" width="7.3" height="21.8" fill="#9feafc"/>
<rect x="1921.3" y="230.9" width="7.3" height="21.8" fill="#fdef74"/>
<rect x="1927.9" y="230.9" width="7.3" height="21.8" fill="#fb2bdc"/>
<rect x="1934.5" y="230.9" width="7.3" height="21.8" fill="#ff40a0"/>
<rect x="1941.1" y="230.9" width="7.3" height="21.8" fill="#fb2bdc"/>
<rect x="1947.7" y="230.9" width="7.3" height="21.8" fill="#fdef74"/>
<rect x="1954.3" y="230.9" width="7.3" height="21.8" fill="#f0fc14"/>
<rect x="1960.9" y="230.9" width="4.4" height="21.8" fill="#dddddd"/>
<rect x="1987.3" y="228" width="66" height="27.6" fill="#000"/>
<rect x="1989.5" y="230.9" width="5.1" height="21.8" fill="#88f606"/>
<rect x="1993.9" y="230.9" width="7.3" height="21.8" fill="#fb2bdc"/>
<rect x="2000.5" y="230.9" width="13.9" height="21.8" fill="#dddddd"/>
<rect x="2013.8" y="230.9" width="7.3" height="21.8" fill="#c236f7"/>
<rect x="2020.4" y="230.9" width="30.8" height="21.8" fill="#dddddd"/>
</g>
<g>
<rect x="810.6" y="283.9" width="28.4" height="2.6" fill="#000"/>
<rect x="843.7" y="283.9" width="15.2" height="2.6" fill="#000"/>
<rect x="949.3" y="283.9" width="15.2" height="2.6" fill="#000"/>
<rect x="1101.3" y="283.9" width="15.2" height="2.6" fill="#000"/>
<rect x="1180.5" y="283.9" width="8.6" height="2.6" fill="#000"/>
<rect x="1266.4" y="283.9" width="186.9" height="2.6" fill="#000"/>
<rect x="1550.4" y="283.9" width="15.2" height="2.6" fill="#000"/>
<rect x="1708.9" y="283.9" width="54.8" height="2.6" fill="#000"/>
<rect x="1887.3" y="283.9" width="8.6" height="2.6" fill="#000"/>
<rect x="1966.5" y="283.9" width="21.8" height="2.6" fill="#000"/>
<rect x="250.2" y="271.5" width="561.4" height="27.5" fill="#000"/>
<rect x="252.4" y="274.4" width="18.3" height="21.7" fill="#dddddd"/>
<rect x="270" y="274.4" width="20.5" height="21.7" fill="#7fd4fb"/>
<rect x="289.8" y="274.4" width="7.3" height="21.7" fill="#dddddd"/>
<rect x="296.5" y="274.4" width="7.3" height="21.7" fill="#7fd4fb"/>
<rect x="303.1" y="274.4" width="33.7" height="21.7" fill="#dddddd"/>
<rect x="336.1" y="274.4" width="7.3" height="21.7" fill="#ff9db0"/>
<rect x="342.7" y="274.4" width="7.3" height="21.7" fill="#fdef74"/>
<rect x="349.3" y="274.4" width="7.3" height="21.7" fill="#8df3de"/>
<rect x="355.9" y="274.4" width="7.3" height="21.7" fill="#ff9db0"/>
<rect x="362.5" y="274.4" width="13.9" height="21.7" fill="#f0fc14"/>
<rect x="375.7" y="274.4" width="7.3" height="21.7" fill="#fdef74"/>
<rect x="382.3" y="274.4" width="7.3" height="21.7" fill="#f0fc14"/>
<rect x="388.9" y="274.4" width="7.3" height="21.7" fill="#c236f7"/>
<rect x="395.5" y="274.4" width="7.3" height="21.7" fill="#7fd4fb"/>
<rect x="402.1" y="274.4" width="7.3" height="21.7" fill="#fb2bdc"/>
<rect x="408.7" y="274.4" width="7.3" height="21.7" fill="#c236f7"/>
<rect x="415.3" y="274.4" width="7.3" height="21.7" fill="#dddddd"/>
<rect x="421.9" y="274.4" width="7.3" height="21.7" fill="#fb2bdc"/>
<rect x="428.6" y="274.4" width="13.9" height="21.7" fill="#c236f7"/>
<rect x="441.8" y="274.4" width="7.3" height="21.7" fill="#dddddd"/>
<rect x="448.4" y="274.4" width="7.3" height="21.7" fill="#88f606"/>
<rect x="455" y="274.4" width="7.3" height="21.7" fill="#8df3de"/>
<rect x="461.6" y="274.4" width="7.3" height="21.7" fill="#dddddd"/>
<rect x="468.2" y="274.4" width="7.3" height="21.7" fill="#88f606"/>
<rect x="474.8" y="274.4" width="7.3" height="21.7" fill="#dddddd"/>
<rect x="481.4" y="274.4" width="7.3" height="21.7" fill="#8df3de"/>
<rect x="488" y="274.4" width="7.3" height="21.7" fill="#fdef74"/>
<rect x="494.6" y="274.4" width="7.3" height="21.7" fill="#f0fc14"/>
<rect x="501.2" y="274.4" width="7.3" height="21.7" fill="#8df3de"/>
<rect x="507.8" y="274.4" width="7.3" height="21.7" fill="#b9b9b9"/>
<rect x="514.4" y="274.4" width="13.9" height="21.7" fill="#dddddd"/>
<rect x="527.6" y="274.4" width="7.3" height="21.7" fill="#55f24f"/>
<rect x="534.2" y="274.4" width="13.9" height="21.7" fill="#7fd4fb"/>
<rect x="547.4" y="274.4" width="7.3" height="21.7" fill="#55f24f"/>
<rect x="554" y="274.4" width="7.3" height="21.7" fill="#fdef74"/>
<rect x="560.6" y="274.4" width="7.3" height="21.7" fill="#b9b9b9"/>
<rect x="567.3" y="274.4" width="7.3" height="21.7" fill="#ff7a22"/>
<rect x="573.9" y="274.4" width="7.3" height="21.7" fill="#fb2bdc"/>
<rect x="580.5" y="274.4" width="7.3" height="21.7" fill="#b9b9b9"/>
<rect x="587.1" y="274.4" width="7.3" height="21.7" fill="#dddddd"/>
<rect x="593.7" y="274.4" width="13.9" height="21.7" fill="#88f606"/>
<rect x="606.9" y="274.4" width="7.3" height="21.7" fill="#8df3de"/>
<rect x="613.5" y="274.4" width="7.3" height="21.7" fill="#55f24f"/>
<rect x="620.1" y="274.4" width="7.3" height="21.7" fill="#c236f7"/>
<rect x="626.7" y="274.4" width="7.3" height="21.7" fill="#88f606"/>
<rect x="633.3" y="274.4" width="13.9" height="21.7" fill="#8df3de"/>
<rect x="646.5" y="274.4" width="7.3" height="21.7" fill="#88f606"/>
<rect x="653.1" y="274.4" width="7.3" height="21.7" fill="#fdef74"/>
<rect x="659.7" y="274.4" width="7.3" height="21.7" fill="#88f606"/>
<rect x="666.3" y="274.4" width="7.3" height="21.7" fill="#ff9db0"/>
<rect x="672.9" y="274.4" width="7.3" height="21.7" fill="#fdef74"/>
<rect x="679.5" y="274.4" width="7.3" height="21.7" fill="#7fd4fb"/>
<rect x="686.1" y="274.4" width="7.3" height="21.7" fill="#8df3de"/>
<rect x="692.8" y="274.4" width="7.3" height="21.7" fill="#ff7a22"/>
<rect x="699.4" y="274.4" width="7.3" height="21.7" fill="#8df3de"/>
<rect x="706" y="274.4" width="7.3" height="21.7" fill="#b9b9b9"/>
<rect x="712.6" y="274.4" width="7.3" height="21.7" fill="#8df3de"/>
<rect x="719.2" y="274.4" width="7.3" height="21.7" fill="#dddddd"/>
<rect x="725.8" y="274.4" width="7.3" height="21.7" fill="#8df3de"/>
<rect x="732.4" y="274.4" width="7.3" height="21.7" fill="#7fd4fb"/>
<rect x="739" y="274.4" width="7.3" height="21.7" fill="#dddddd"/>
<rect x="745.6" y="274.4" width="7.3" height="21.7" fill="#fb2bdc"/>
<rect x="752.2" y="274.4" width="13.9" height="21.7" fill="#8df3de"/>
<rect x="765.4" y="274.4" width="7.3" height="21.7" fill="#dddddd"/>
<rect x="772" y="274.4" width="7.3" height="21.7" fill="#fb2bdc"/>
<rect x="778.6" y="274.4" width="30.8" height="21.7" fill="#dddddd"/>
<rect x="838.1" y="271.5" width="6.6" height="27.5" fill="#000"/>
<rect x="840.3" y="274.4" width="2.2" height="21.7" fill="#f4f4f4"/>
<rect x="857.9" y="271.5" width="92.5" height="27.5" fill="#000"/>
<rect x="860.1" y="274.4" width="38.1" height="21.7" fill="#dddddd"/>
<rect x="897.5" y="274.4" width="7.3" height="21.7" fill="#7fd4fb"/>
<rect x="904.1" y="274.4" width="13.9" height="21.7" fill="#dddddd"/>
<rect x="917.3" y="274.4" width="13.9" height="21.7" fill="#b9b9b9"/>
<rect x="930.5" y="274.4" width="13.9" height="21.7" fill="#dddddd"/>
<rect x="943.7" y="274.4" width="4.4" height="21.7" fill="#b9b9b9"/>
<rect x="963.6" y="271.5" width="138.7" height="27.5" fill="#000"/>
<rect x="965.8" y="274.4" width="5.1" height="21.7" fill="#f0fc14"/>
<rect x="970.2" y="274.4" width="33.7" height="21.7" fill="#dddddd"/>
<rect x="1003.2" y="274.4" width="13.9" height="21.7" fill="#fb2bdc"/>
<rect x="1016.4" y="274.4" width="13.9" height="21.7" fill="#dddddd"/>
<rect x="1029.6" y="274.4" width="7.3" height="21.7" fill="#f0fc14"/>
<rect x="1036.2" y="274.4" width="7.3" height="21.7" fill="#ff9db0"/>
<rect x="1042.8" y="274.4" width="7.3" height="21.7" fill="#dddddd"/>
<rect x="1049.4" y="274.4" width="7.3" height="21.7" fill="#fdef74"/>
<rect x="1056" y="274.4" width="7.3" height="21.7" fill="#dddddd"/>
<rect x="1062.6" y="274.4" width="7.3" height="21.7" fill="#f0fc14"/>
<rect x="1069.2" y="274.4" width="7.3" height="21.7" fill="#dddddd"/>
<rect x="1075.8" y="274.4" width="7.3" height="21.7" fill="#f0fc14"/>
<rect x="1082.4" y="274.4" width="7.3" height="21.7" fill="#dddddd"/>
<rect x="1089.1" y="274.4" width="7.3" height="21.7" fill="#b9b9b9"/>
<rect x="1095.7" y="274.4" width="4.4" height="21.7" fill="#dddddd"/>
<rect x="1115.5" y="271.5" width="66.1" height="27.5" fill="#000"/>
<rect x="1117.7" y="274.4" width="51.3" height="21.7" fill="#dddddd"/>
<rect x="1168.3" y="274.4" width="7.3" height="21.7" fill="#88f606"/>
<rect x="1174.9" y="274.4" width="4.4" height="21.7" fill="#dddddd"/>
<rect x="1188.1" y="271.5" width="79.3" height="27.5" fill="#000"/>
<rect x="1190.3" y="274.4" width="5.1" height="21.7" fill="#dddddd"/>
<rect x="1194.7" y="274.4" width="7.3" height="21.7" fill="#b9b9b9"/>
<rect x="1201.3" y="274.4" width="7.3" height="21.7" fill="#fdef74"/>
<rect x="1207.9" y="274.4" width="7.3" height="21.7" fill="#b9b9b9"/>
<rect x="1214.5" y="274.4" width="7.3" height="21.7" fill="#fdef74"/>
<rect x="1221.2" y="274.4" width="7.3" height="21.7" fill="#b9b9b9"/>
<rect x="1227.8" y="274.4" width="7.3" height="21.7" fill="#dddddd"/>
<rect x="1234.4" y="274.4" width="7.3" height="21.7" fill="#f0fc14"/>
<rect x="1241" y="274.4" width="7.3" height="21.7" fill="#dddddd"/>
<rect x="1247.6" y="274.4" width="7.3" height="21.7" fill="#ff9db0"/>
<rect x="1254.2" y="274.4" width="7.3" height="21.7" fill="#dddddd"/>
<rect x="1260.8" y="274.4" width="4.4" height="21.7" fill="#88f606"/>
<rect x="1452.3" y="271.5" width="99.1" height="27.5" fill="#000"/>
<rect x="1454.5" y="274.4" width="11.7" height="21.7" fill="#88f606"/>
<rect x="1465.5" y="274.4" width="13.9" height="21.7" fill="#dddddd"/>
<rect x="1478.7" y="274.4" width="7.3" height="21.7" fill="#f0fc14"/>
<rect x="1485.4" y="274.4" width="7.3" height="21.7" fill="#b9b9b9"/>
<rect x="1492" y="274.4" width="7.3" height="21.7" fill="#dddddd"/>
<rect x="1498.6" y="274.4" width="7.3" height="21.7" fill="#b9b9b9"/>
<rect x="1505.2" y="274.4" width="7.3" height="21.7" fill="#dddddd"/>
<rect x="1511.8" y="274.4" width="7.3" height="21.7" fill="#88f606"/>
<rect x="1518.4" y="274.4" width="7.3" height="21.7" fill="#8df3de"/>
<rect x="1525" y="274.4" width="13.9" height="21.7" fill="#dddddd"/>
<rect x="1538.2" y="274.4" width="7.3" height="21.7" fill="#88f606"/>
<rect x="1544.8" y="274.4" width="4.4" height="21.7" fill="#dddddd"/>
<rect x="1564.6" y="271.5" width="145.3" height="27.5" fill="#000"/>
<rect x="1566.8" y="274.4" width="84.4" height="21.7" fill="#dddddd"/>
<rect x="1650.5" y="274.4" width="7.3" height="21.7" fill="#55f24f"/>
<rect x="1657.1" y="274.4" width="7.3" height="21.7" fill="#dddddd"/>
<rect x="1663.7" y="274.4" width="7.3" height="21.7" fill="#ff9db0"/>
<rect x="1670.3" y="274.4" width="7.3" height="21.7" fill="#b9b9b9"/>
<rect x="1676.9" y="274.4" width="13.9" height="21.7" fill="#dddddd"/>
<rect x="1690.1" y="274.4" width="7.3" height="21.7" fill="#b9b9b9"/>
<rect x="1696.7" y="274.4" width="7.3" height="21.7" fill="#dddddd"/>
<rect x="1703.3" y="274.4" width="4.4" height="21.7" fill="#c236f7"/>
<rect x="1762.8" y="271.5" width="125.5" height="27.5" fill="#000"/>
<rect x="1765" y="274.4" width="38.1" height="21.7" fill="#dddddd"/>
<rect x="1802.4" y="274.4" width="7.3" height="21.7" fill="#c236f7"/>
<rect x="1809" y="274.4" width="20.5" height="21.7" fill="#dddddd"/>
<rect x="1828.8" y="274.4" width="13.9" height="21.7" fill="#f0fc14"/>
<rect x="1842" y="274.4" width="27.1" height="21.7" fill="#dddddd"/>
<rect x="1868.4" y="274.4" width="7.3" height="21.7" fill="#b9b9b9"/>
<rect x="1875" y="274.4" width="7.3" height="21.7" fill="#dddddd"/>
<rect x="1881.7" y="274.4" width="4.4" height="21.7" fill="#f0fc14"/>
<rect x="1894.9" y="271.5" width="72.7" height="27.5" fill="#000"/>
<rect x="1897.1" y="274.4" width="5.1" height="21.7" fill="#8df3de"/>
<rect x="1901.5" y="274.4" width="7.3" height="21.7" fill="#f0fc14"/>
<rect x="1908.1" y="274.4" width="7.3" height="21.7" fill="#fb2bdc"/>
<rect x="1914.7" y="274.4" width="7.3" height="21.7" fill="#9feafc"/>
<rect x="1921.3" y="274.4" width="7.3" height="21.7" fill="#fdef74"/>
<rect x="1927.9" y="274.4" width="7.3" height="21.7" fill="#fb2bdc"/>
<rect x="1934.5" y="274.4" width="7.3" height="21.7" fill="#ff40a0"/>
<rect x="1941.1" y="274.4" width="7.3" height="21.7" fill="#fb2bdc"/>
<rect x="1947.7" y="274.4" width="7.3" height="21.7" fill="#fdef74"/>
<rect x="1954.3" y="274.4" width="7.3" height="21.7" fill="#f0fc14"/>
<rect x="1960.9" y="274.4" width="4.4" height="21.7" fill="#dddddd"/>
<rect x="1987.3" y="271.5" width="66" height="27.5" fill="#000"/>
<rect x="1989.5" y="274.4" width="5.1" height="21.7" fill="#88f606"/>
<rect x="1993.9" y="274.4" width="7.3" height="21.7" fill="#fb2bdc"/>
<rect x="2000.5" y="274.4" width="7.3" height="21.7" fill="#9feafc"/>
<rect x="2007.1" y="274.4" width="7.3" height="21.7" fill="#dddddd"/>
<rect x="2013.8" y="274.4" width="7.3" height="21.7" fill="#c236f7"/>
<rect x="2020.4" y="274.4" width="30.8" height="21.7" fill="#dddddd"/>
</g>
<g>
<rect x="810.6" y="324.7" width="48.2" height="2.6" fill="#000"/>
<rect x="1008.8" y="324.7" width="15.2" height="2.6" fill="#000"/>
<rect x="1220.2" y="324.7" width="8.6" height="2.6" fill="#000"/>
<rect x="1827.8" y="324.7" width="15.2" height="2.6" fill="#000"/>
<rect x="303.1" y="312.3" width="508.6" height="27.3" fill="#000"/>
<rect x="305.3" y="315.2" width="5.1" height="21.5" fill="#dddddd"/>
<rect x="309.7" y="315.2" width="7.3" height="21.5" fill="#f0fc14"/>
<rect x="316.3" y="315.2" width="20.5" height="21.5" fill="#dddddd"/>
<rect x="336.1" y="315.2" width="7.3" height="21.5" fill="#ff9db0"/>
<rect x="342.7" y="315.2" width="7.3" height="21.5" fill="#fdef74"/>
<rect x="349.3" y="315.2" width="7.3" height="21.5" fill="#8df3de"/>
<rect x="355.9" y="315.2" width="7.3" height="21.5" fill="#ff9db0"/>
<rect x="362.5" y="315.2" width="13.9" height="21.5" fill="#f0fc14"/>
<rect x="375.7" y="315.2" width="7.3" height="21.5" fill="#fdef74"/>
<rect x="382.3" y="315.2" width="7.3" height="21.5" fill="#f0fc14"/>
<rect x="388.9" y="315.2" width="7.3" height="21.5" fill="#c236f7"/>
<rect x="395.5" y="315.2" width="7.3" height="21.5" fill="#7fd4fb"/>
<rect x="402.1" y="315.2" width="7.3" height="21.5" fill="#fb2bdc"/>
<rect x="408.7" y="315.2" width="7.3" height="21.5" fill="#c236f7"/>
<rect x="415.3" y="315.2" width="7.3" height="21.5" fill="#55f24f"/>
<rect x="421.9" y="315.2" width="7.3" height="21.5" fill="#fb2bdc"/>
<rect x="428.6" y="315.2" width="20.5" height="21.5" fill="#c236f7"/>
<rect x="448.4" y="315.2" width="7.3" height="21.5" fill="#88f606"/>
<rect x="455" y="315.2" width="7.3" height="21.5" fill="#8df3de"/>
<rect x="461.6" y="315.2" width="7.3" height="21.5" fill="#dddddd"/>
<rect x="468.2" y="315.2" width="7.3" height="21.5" fill="#88f606"/>
<rect x="474.8" y="315.2" width="7.3" height="21.5" fill="#dddddd"/>
<rect x="481.4" y="315.2" width="7.3" height="21.5" fill="#8df3de"/>
<rect x="488" y="315.2" width="7.3" height="21.5" fill="#fdef74"/>
<rect x="494.6" y="315.2" width="7.3" height="21.5" fill="#f0fc14"/>
<rect x="501.2" y="315.2" width="7.3" height="21.5" fill="#8df3de"/>
<rect x="507.8" y="315.2" width="7.3" height="21.5" fill="#b9b9b9"/>
<rect x="514.4" y="315.2" width="13.9" height="21.5" fill="#dddddd"/>
<rect x="527.6" y="315.2" width="7.3" height="21.5" fill="#55f24f"/>
<rect x="534.2" y="315.2" width="13.9" height="21.5" fill="#7fd4fb"/>
<rect x="547.4" y="315.2" width="7.3" height="21.5" fill="#55f24f"/>
<rect x="554" y="315.2" width="7.3" height="21.5" fill="#fdef74"/>
<rect x="560.6" y="315.2" width="7.3" height="21.5" fill="#b9b9b9"/>
<rect x="567.3" y="315.2" width="7.3" height="21.5" fill="#ff7a22"/>
<rect x="573.9" y="315.2" width="7.3" height="21.5" fill="#fb2bdc"/>
<rect x="580.5" y="315.2" width="7.3" height="21.5" fill="#b9b9b9"/>
<rect x="587.1" y="315.2" width="7.3" height="21.5" fill="#dddddd"/>
<rect x="593.7" y="315.2" width="13.9" height="21.5" fill="#88f606"/>
<rect x="606.9" y="315.2" width="7.3" height="21.5" fill="#8df3de"/>
<rect x="613.5" y="315.2" width="7.3" height="21.5" fill="#55f24f"/>
<rect x="620.1" y="315.2" width="7.3" height="21.5" fill="#c236f7"/>
<rect x="626.7" y="315.2" width="7.3" height="21.5" fill="#88f606"/>
<rect x="633.3" y="315.2" width="13.9" height="21.5" fill="#8df3de"/>
<rect x="646.5" y="315.2" width="7.3" height="21.5" fill="#88f606"/>
<rect x="653.1" y="315.2" width="7.3" height="21.5" fill="#fdef74"/>
<rect x="659.7" y="315.2" width="7.3" height="21.5" fill="#88f606"/>
<rect x="666.3" y="315.2" width="7.3" height="21.5" fill="#ff9db0"/>
<rect x="672.9" y="315.2" width="7.3" height="21.5" fill="#fdef74"/>
<rect x="679.5" y="315.2" width="7.3" height="21.5" fill="#7fd4fb"/>
<rect x="686.1" y="315.2" width="7.3" height="21.5" fill="#8df3de"/>
<rect x="692.8" y="315.2" width="7.3" height="21.5" fill="#ff7a22"/>
<rect x="699.4" y="315.2" width="7.3" height="21.5" fill="#8df3de"/>
<rect x="706" y="315.2" width="7.3" height="21.5" fill="#b9b9b9"/>
<rect x="712.6" y="315.2" width="7.3" height="21.5" fill="#8df3de"/>
<rect x="719.2" y="315.2" width="7.3" height="21.5" fill="#dddddd"/>
<rect x="725.8" y="315.2" width="7.3" height="21.5" fill="#8df3de"/>
<rect x="732.4" y="315.2" width="7.3" height="21.5" fill="#7fd4fb"/>
<rect x="739" y="315.2" width="7.3" height="21.5" fill="#dddddd"/>
<rect x="745.6" y="315.2" width="7.3" height="21.5" fill="#fb2bdc"/>
<rect x="752.2" y="315.2" width="20.5" height="21.5" fill="#8df3de"/>
<rect x="772" y="315.2" width="7.3" height="21.5" fill="#fb2bdc"/>
<rect x="778.6" y="315.2" width="7.3" height="21.5" fill="#f0fc14"/>
<rect x="785.2" y="315.2" width="13.9" height="21.5" fill="#dddddd"/>
<rect x="798.4" y="315.2" width="7.3" height="21.5" fill="#ff7a22"/>
<rect x="805" y="315.2" width="4.4" height="21.5" fill="#7fd4fb"/>
<rect x="857.9" y="312.3" width="151.9" height="27.3" fill="#000"/>
<rect x="860.1" y="315.2" width="18.3" height="21.5" fill="#dddddd"/>
<rect x="877.7" y="315.2" width="7.3" height="21.5" fill="#b9b9b9"/>
<rect x="884.3" y="315.2" width="20.5" height="21.5" fill="#7fd4fb"/>
<rect x="904.1" y="315.2" width="7.3" height="21.5" fill="#b9b9b9"/>
<rect x="910.7" y="315.2" width="7.3" height="21.5" fill="#fdef74"/>
<rect x="917.3" y="315.2" width="20.5" height="21.5" fill="#b9b9b9"/>
<rect x="937.1" y="315.2" width="7.3" height="21.5" fill="#dddddd"/>
<rect x="943.7" y="315.2" width="7.3" height="21.5" fill="#b9b9b9"/>
<rect x="950.3" y="315.2" width="13.9" height="21.5" fill="#ff9db0"/>
<rect x="963.6" y="315.2" width="7.3" height="21.5" fill="#f0fc14"/>
<rect x="970.2" y="315.2" width="7.3" height="21.5" fill="#8df3de"/>
<rect x="976.8" y="315.2" width="7.3" height="21.5" fill="#ff9db0"/>
<rect x="983.4" y="315.2" width="24.2" height="21.5" fill="#dddddd"/>
<rect x="1023" y="312.3" width="198.2" height="27.3" fill="#000"/>
<rect x="1025.2" y="315.2" width="18.3" height="21.5" fill="#dddddd"/>
<rect x="1042.8" y="315.2" width="7.3" height="21.5" fill="#b9b9b9"/>
<rect x="1049.4" y="315.2" width="53.5" height="21.5" fill="#dddddd"/>
<rect x="1102.3" y="315.2" width="7.3" height="21.5" fill="#ff7a22"/>
<rect x="1108.9" y="315.2" width="7.3" height="21.5" fill="#f0fc14"/>
<rect x="1115.5" y="315.2" width="7.3" height="21.5" fill="#b9b9b9"/>
<rect x="1122.1" y="315.2" width="60.1" height="21.5" fill="#dddddd"/>
<rect x="1181.5" y="315.2" width="7.3" height="21.5" fill="#f0fc14"/>
<rect x="1188.1" y="315.2" width="7.3" height="21.5" fill="#88f606"/>
<rect x="1194.7" y="315.2" width="7.3" height="21.5" fill="#b9b9b9"/>
<rect x="1201.3" y="315.2" width="7.3" height="21.5" fill="#fdef74"/>
<rect x="1207.9" y="315.2" width="7.3" height="21.5" fill="#dddddd"/>
<rect x="1214.5" y="315.2" width="4.4" height="21.5" fill="#fdef74"/>
<rect x="1227.8" y="312.3" width="601.1" height="27.3" fill="#000"/>
<rect x="1230" y="315.2" width="5.1" height="21.5" fill="#c236f7"/>
<rect x="1234.4" y="315.2" width="7.3" height="21.5" fill="#f0fc14"/>
<rect x="1241" y="315.2" width="13.9" height="21.5" fill="#dddddd"/>
<rect x="1254.2" y="315.2" width="7.3" height="21.5" fill="#fb2bdc"/>
<rect x="1260.8" y="315.2" width="13.9" height="21.5" fill="#88f606"/>
<rect x="1274" y="315.2" width="7.3" height="21.5" fill="#dddddd"/>
<rect x="1280.6" y="315.2" width="7.3" height="21.5" fill="#88f606"/>
<rect x="1287.2" y="315.2" width="13.9" height="21.5" fill="#7fd4fb"/>
<rect x="1300.4" y="315.2" width="7.3" height="21.5" fill="#dddddd"/>
<rect x="1307" y="315.2" width="7.3" height="21.5" fill="#b9b9b9"/>
<rect x="1313.6" y="315.2" width="7.3" height="21.5" fill="#fdef74"/>
<rect x="1320.2" y="315.2" width="7.3" height="21.5" fill="#5cee10"/>
<rect x="1326.8" y="315.2" width="7.3" height="21.5" fill="#dddddd"/>
<rect x="1333.4" y="315.2" width="7.3" height="21.5" fill="#f0fc14"/>
<rect x="1340" y="315.2" width="7.3" height="21.5" fill="#5cee10"/>
<rect x="1346.6" y="315.2" width="7.3" height="21.5" fill="#fb2bdc"/>
<rect x="1353.3" y="315.2" width="7.3" height="21.5" fill="#8df3de"/>
<rect x="1359.9" y="315.2" width="7.3" height="21.5" fill="#f0fc14"/>
<rect x="1366.5" y="315.2" width="20.5" height="21.5" fill="#b9b9b9"/>
<rect x="1386.3" y="315.2" width="7.3" height="21.5" fill="#88f606"/>
<rect x="1392.9" y="315.2" width="60.1" height="21.5" fill="#dddddd"/>
<rect x="1452.3" y="315.2" width="13.9" height="21.5" fill="#88f606"/>
<rect x="1465.5" y="315.2" width="20.5" height="21.5" fill="#dddddd"/>
<rect x="1485.4" y="315.2" width="7.3" height="21.5" fill="#b9b9b9"/>
<rect x="1492" y="315.2" width="7.3" height="21.5" fill="#dddddd"/>
<rect x="1498.6" y="315.2" width="7.3" height="21.5" fill="#b9b9b9"/>
<rect x="1505.2" y="315.2" width="7.3" height="21.5" fill="#dddddd"/>
<rect x="1511.8" y="315.2" width="7.3" height="21.5" fill="#88f606"/>
<rect x="1518.4" y="315.2" width="20.5" height="21.5" fill="#dddddd"/>
<rect x="1538.2" y="315.2" width="7.3" height="21.5" fill="#88f606"/>
<rect x="1544.8" y="315.2" width="7.3" height="21.5" fill="#dddddd"/>
<rect x="1551.4" y="315.2" width="13.9" height="21.5" fill="#88f606"/>
<rect x="1564.6" y="315.2" width="7.3" height="21.5" fill="#b9b9b9"/>
<rect x="1571.2" y="315.2" width="99.8" height="21.5" fill="#dddddd"/>
<rect x="1670.3" y="315.2" width="7.3" height="21.5" fill="#b9b9b9"/>
<rect x="1676.9" y="315.2" width="13.9" height="21.5" fill="#dddddd"/>
<rect x="1690.1" y="315.2" width="7.3" height="21.5" fill="#b9b9b9"/>
<rect x="1696.7" y="315.2" width="7.3" height="21.5" fill="#dddddd"/>
<rect x="1703.3" y="315.2" width="7.3" height="21.5" fill="#c236f7"/>
<rect x="1709.9" y="315.2" width="7.3" height="21.5" fill="#ff7a22"/>
<rect x="1716.5" y="315.2" width="20.5" height="21.5" fill="#dddddd"/>
<rect x="1736.3" y="315.2" width="7.3" height="21.5" fill="#ff9db0"/>
<rect x="1742.9" y="315.2" width="7.3" height="21.5" fill="#f0fc14"/>
<rect x="1749.6" y="315.2" width="7.3" height="21.5" fill="#88f606"/>
<rect x="1756.2" y="315.2" width="13.9" height="21.5" fill="#b9b9b9"/>
<rect x="1769.4" y="315.2" width="7.3" height="21.5" fill="#ff9db0"/>
<rect x="1776" y="315.2" width="7.3" height="21.5" fill="#88f606"/>
<rect x="1782.6" y="315.2" width="7.3" height="21.5" fill="#ff9db0"/>
<rect x="1789.2" y="315.2" width="13.9" height="21.5" fill="#dddddd"/>
<rect x="1802.4" y="315.2" width="7.3" height="21.5" fill="#c236f7"/>
<rect x="1809" y="315.2" width="7.3" height="21.5" fill="#88f606"/>
<rect x="1815.6" y="315.2" width="7.3" height="21.5" fill="#dddddd"/>
<rect x="1822.2" y="315.2" width="4.4" height="21.5" fill="#b9b9b9"/>
<rect x="1842" y="312.3" width="270.8" height="27.3" fill="#000"/>
<rect x="1844.2" y="315.2" width="5.1" height="21.5" fill="#fb2bdc"/>
<rect x="1848.6" y="315.2" width="27.1" height="21.5" fill="#dddddd"/>
<rect x="1875" y="315.2" width="13.9" height="21.5" fill="#f0fc14"/>
<rect x="1888.3" y="315.2" width="7.3" height="21.5" fill="#dddddd"/>
<rect x="1894.9" y="315.2" width="7.3" height="21.5" fill="#8df3de"/>
<rect x="1901.5" y="315.2" width="7.3" height="21.5" fill="#f0fc14"/>
<rect x="1908.1" y="315.2" width="7.3" height="21.5" fill="#fb2bdc"/>
<rect x="1914.7" y="315.2" width="7.3" height="21.5" fill="#9feafc"/>
<rect x="1921.3" y="315.2" width="7.3" height="21.5" fill="#fdef74"/>
<rect x="1927.9" y="315.2" width="7.3" height="21.5" fill="#fb2bdc"/>
<rect x="1934.5" y="315.2" width="7.3" height="21.5" fill="#ff40a0"/>
<rect x="1941.1" y="315.2" width="7.3" height="21.5" fill="#fb2bdc"/>
<rect x="1947.7" y="315.2" width="7.3" height="21.5" fill="#fdef74"/>
<rect x="1954.3" y="315.2" width="7.3" height="21.5" fill="#f0fc14"/>
<rect x="1960.9" y="315.2" width="7.3" height="21.5" fill="#fdef74"/>
<rect x="1967.5" y="315.2" width="20.5" height="21.5" fill="#dddddd"/>
<rect x="1987.3" y="315.2" width="7.3" height="21.5" fill="#88f606"/>
<rect x="1993.9" y="315.2" width="7.3" height="21.5" fill="#fb2bdc"/>
<rect x="2000.5" y="315.2" width="7.3" height="21.5" fill="#9feafc"/>
<rect x="2007.1" y="315.2" width="7.3" height="21.5" fill="#dddddd"/>
<rect x="2013.8" y="315.2" width="7.3" height="21.5" fill="#c236f7"/>
<rect x="2020.4" y="315.2" width="33.7" height="21.5" fill="#dddddd"/>
<rect x="2053.4" y="315.2" width="20.5" height="21.5" fill="#ff9db0"/>
<rect x="2073.2" y="315.2" width="7.3" height="21.5" fill="#f0fc14"/>
<rect x="2079.8" y="315.2" width="7.3" height="21.5" fill="#ff9db0"/>
<rect x="2086.4" y="315.2" width="7.3" height="21.5" fill="#fdef74"/>
<rect x="2093" y="315.2" width="7.3" height="21.5" fill="#ff9db0"/>
<rect x="2099.6" y="315.2" width="7.3" height="21.5" fill="#fdef74"/>
<rect x="2106.2" y="315.2" width="4.4" height="21.5" fill="#8df3de"/>
</g>
<g>
<rect x="817.2" y="368.1" width="35" height="2.6" fill="#000"/>
<rect x="1246.6" y="368.1" width="8.6" height="2.6" fill="#000"/>
<rect x="1438.1" y="368.1" width="15.2" height="2.6" fill="#000"/>
<rect x="1517.4" y="368.1" width="8.6" height="2.6" fill="#000"/>
<rect x="303.1" y="355.6" width="515.2" height="27.6" fill="#000"/>
<rect x="305.3" y="358.5" width="5.1" height="21.8" fill="#dddddd"/>
<rect x="309.7" y="358.5" width="7.3" height="21.8" fill="#f0fc14"/>
<rect x="316.3" y="358.5" width="20.5" height="21.8" fill="#dddddd"/>
<rect x="336.1" y="358.5" width="7.3" height="21.8" fill="#ff9db0"/>
<rect x="342.7" y="358.5" width="7.3" height="21.8" fill="#fdef74"/>
<rect x="349.3" y="358.5" width="7.3" height="21.8" fill="#8df3de"/>
<rect x="355.9" y="358.5" width="7.3" height="21.8" fill="#ff9db0"/>
<rect x="362.5" y="358.5" width="13.9" height="21.8" fill="#f0fc14"/>
<rect x="375.7" y="358.5" width="7.3" height="21.8" fill="#fdef74"/>
<rect x="382.3" y="358.5" width="7.3" height="21.8" fill="#f0fc14"/>
<rect x="388.9" y="358.5" width="7.3" height="21.8" fill="#c236f7"/>
<rect x="395.5" y="358.5" width="7.3" height="21.8" fill="#7fd4fb"/>
<rect x="402.1" y="358.5" width="7.3" height="21.8" fill="#fb2bdc"/>
<rect x="408.7" y="358.5" width="7.3" height="21.8" fill="#c236f7"/>
<rect x="415.3" y="358.5" width="7.3" height="21.8" fill="#55f24f"/>
<rect x="421.9" y="358.5" width="7.3" height="21.8" fill="#fb2bdc"/>
<rect x="428.6" y="358.5" width="20.5" height="21.8" fill="#c236f7"/>
<rect x="448.4" y="358.5" width="7.3" height="21.8" fill="#88f606"/>
<rect x="455" y="358.5" width="7.3" height="21.8" fill="#8df3de"/>
<rect x="461.6" y="358.5" width="7.3" height="21.8" fill="#dddddd"/>
<rect x="468.2" y="358.5" width="7.3" height="21.8" fill="#88f606"/>
<rect x="474.8" y="358.5" width="7.3" height="21.8" fill="#dddddd"/>
<rect x="481.4" y="358.5" width="7.3" height="21.8" fill="#8df3de"/>
<rect x="488" y="358.5" width="7.3" height="21.8" fill="#fdef74"/>
<rect x="494.6" y="358.5" width="7.3" height="21.8" fill="#f0fc14"/>
<rect x="501.2" y="358.5" width="7.3" height="21.8" fill="#8df3de"/>
<rect x="507.8" y="358.5" width="7.3" height="21.8" fill="#b9b9b9"/>
<rect x="514.4" y="358.5" width="13.9" height="21.8" fill="#dddddd"/>
<rect x="527.6" y="358.5" width="7.3" height="21.8" fill="#55f24f"/>
<rect x="534.2" y="358.5" width="13.9" height="21.8" fill="#7fd4fb"/>
<rect x="547.4" y="358.5" width="7.3" height="21.8" fill="#55f24f"/>
<rect x="554" y="358.5" width="7.3" height="21.8" fill="#fdef74"/>
<rect x="560.6" y="358.5" width="7.3" height="21.8" fill="#b9b9b9"/>
<rect x="567.3" y="358.5" width="7.3" height="21.8" fill="#ff7a22"/>
<rect x="573.9" y="358.5" width="7.3" height="21.8" fill="#fb2bdc"/>
<rect x="580.5" y="358.5" width="7.3" height="21.8" fill="#b9b9b9"/>
<rect x="587.1" y="358.5" width="7.3" height="21.8" fill="#dddddd"/>
<rect x="593.7" y="358.5" width="13.9" height="21.8" fill="#88f606"/>
<rect x="606.9" y="358.5" width="7.3" height="21.8" fill="#8df3de"/>
<rect x="613.5" y="358.5" width="7.3" height="21.8" fill="#55f24f"/>
<rect x="620.1" y="358.5" width="7.3" height="21.8" fill="#c236f7"/>
<rect x="626.7" y="358.5" width="7.3" height="21.8" fill="#88f606"/>
<rect x="633.3" y="358.5" width="13.9" height="21.8" fill="#8df3de"/>
<rect x="646.5" y="358.5" width="7.3" height="21.8" fill="#88f606"/>
<rect x="653.1" y="358.5" width="7.3" height="21.8" fill="#fdef74"/>
<rect x="659.7" y="358.5" width="7.3" height="21.8" fill="#88f606"/>
<rect x="666.3" y="358.5" width="7.3" height="21.8" fill="#ff9db0"/>
<rect x="672.9" y="358.5" width="7.3" height="21.8" fill="#fdef74"/>
<rect x="679.5" y="358.5" width="7.3" height="21.8" fill="#7fd4fb"/>
<rect x="686.1" y="358.5" width="7.3" height="21.8" fill="#8df3de"/>
<rect x="692.8" y="358.5" width="7.3" height="21.8" fill="#ff7a22"/>
<rect x="699.4" y="358.5" width="7.3" height="21.8" fill="#8df3de"/>
<rect x="706" y="358.5" width="7.3" height="21.8" fill="#b9b9b9"/>
<rect x="712.6" y="358.5" width="7.3" height="21.8" fill="#8df3de"/>
<rect x="719.2" y="358.5" width="7.3" height="21.8" fill="#dddddd"/>
<rect x="725.8" y="358.5" width="7.3" height="21.8" fill="#8df3de"/>
<rect x="732.4" y="358.5" width="7.3" height="21.8" fill="#7fd4fb"/>
<rect x="739" y="358.5" width="7.3" height="21.8" fill="#dddddd"/>
<rect x="745.6" y="358.5" width="7.3" height="21.8" fill="#fb2bdc"/>
<rect x="752.2" y="358.5" width="20.5" height="21.8" fill="#8df3de"/>
<rect x="772" y="358.5" width="7.3" height="21.8" fill="#fb2bdc"/>
<rect x="778.6" y="358.5" width="7.3" height="21.8" fill="#f0fc14"/>
<rect x="785.2" y="358.5" width="13.9" height="21.8" fill="#dddddd"/>
<rect x="798.4" y="358.5" width="7.3" height="21.8" fill="#ff7a22"/>
<rect x="805" y="358.5" width="7.3" height="21.8" fill="#7fd4fb"/>
<rect x="811.6" y="358.5" width="4.4" height="21.8" fill="#dddddd"/>
<rect x="851.3" y="355.6" width="396.3" height="27.6" fill="#000"/>
<rect x="853.5" y="358.5" width="11.7" height="21.8" fill="#88f606"/>
<rect x="864.5" y="358.5" width="7.3" height="21.8" fill="#b9b9b9"/>
<rect x="871.1" y="358.5" width="13.9" height="21.8" fill="#dddddd"/>
<rect x="884.3" y="358.5" width="20.5" height="21.8" fill="#7fd4fb"/>
<rect x="904.1" y="358.5" width="7.3" height="21.8" fill="#b9b9b9"/>
<rect x="910.7" y="358.5" width="7.3" height="21.8" fill="#fdef74"/>
<rect x="917.3" y="358.5" width="20.5" height="21.8" fill="#b9b9b9"/>
<rect x="937.1" y="358.5" width="7.3" height="21.8" fill="#dddddd"/>
<rect x="943.7" y="358.5" width="7.3" height="21.8" fill="#b9b9b9"/>
<rect x="950.3" y="358.5" width="13.9" height="21.8" fill="#ff9db0"/>
<rect x="963.6" y="358.5" width="7.3" height="21.8" fill="#f0fc14"/>
<rect x="970.2" y="358.5" width="7.3" height="21.8" fill="#8df3de"/>
<rect x="976.8" y="358.5" width="7.3" height="21.8" fill="#ff9db0"/>
<rect x="983.4" y="358.5" width="20.5" height="21.8" fill="#dddddd"/>
<rect x="1003.2" y="358.5" width="13.9" height="21.8" fill="#fb2bdc"/>
<rect x="1016.4" y="358.5" width="13.9" height="21.8" fill="#dddddd"/>
<rect x="1029.6" y="358.5" width="7.3" height="21.8" fill="#f0fc14"/>
<rect x="1036.2" y="358.5" width="7.3" height="21.8" fill="#dddddd"/>
<rect x="1042.8" y="358.5" width="7.3" height="21.8" fill="#b9b9b9"/>
<rect x="1049.4" y="358.5" width="53.5" height="21.8" fill="#dddddd"/>
<rect x="1102.3" y="358.5" width="7.3" height="21.8" fill="#ff7a22"/>
<rect x="1108.9" y="358.5" width="7.3" height="21.8" fill="#f0fc14"/>
<rect x="1115.5" y="358.5" width="7.3" height="21.8" fill="#b9b9b9"/>
<rect x="1122.1" y="358.5" width="60.1" height="21.8" fill="#dddddd"/>
<rect x="1181.5" y="358.5" width="7.3" height="21.8" fill="#f0fc14"/>
<rect x="1188.1" y="358.5" width="7.3" height="21.8" fill="#88f606"/>
<rect x="1194.7" y="358.5" width="7.3" height="21.8" fill="#b9b9b9"/>
<rect x="1201.3" y="358.5" width="7.3" height="21.8" fill="#fdef74"/>
<rect x="1207.9" y="358.5" width="7.3" height="21.8" fill="#dddddd"/>
<rect x="1214.5" y="358.5" width="7.3" height="21.8" fill="#fdef74"/>
<rect x="1221.2" y="358.5" width="7.3" height="21.8" fill="#dddddd"/>
<rect x="1227.8" y="358.5" width="7.3" height="21.8" fill="#c236f7"/>
<rect x="1234.4" y="358.5" width="7.3" height="21.8" fill="#f0fc14"/>
<rect x="1241" y="358.5" width="4.4" height="21.8" fill="#dddddd"/>
<rect x="1254.2" y="355.6" width="184.9" height="27.6" fill="#000"/>
<rect x="1256.4" y="358.5" width="5.1" height="21.8" fill="#fb2bdc"/>
<rect x="1260.8" y="358.5" width="13.9" height="21.8" fill="#88f606"/>
<rect x="1274" y="358.5" width="7.3" height="21.8" fill="#dddddd"/>
<rect x="1280.6" y="358.5" width="7.3" height="21.8" fill="#88f606"/>
<rect x="1287.2" y="358.5" width="13.9" height="21.8" fill="#7fd4fb"/>
<rect x="1300.4" y="358.5" width="7.3" height="21.8" fill="#dddddd"/>
<rect x="1307" y="358.5" width="7.3" height="21.8" fill="#b9b9b9"/>
<rect x="1313.6" y="358.5" width="7.3" height="21.8" fill="#fdef74"/>
<rect x="1320.2" y="358.5" width="7.3" height="21.8" fill="#5cee10"/>
<rect x="1326.8" y="358.5" width="7.3" height="21.8" fill="#fdef74"/>
<rect x="1333.4" y="358.5" width="7.3" height="21.8" fill="#f0fc14"/>
<rect x="1340" y="358.5" width="7.3" height="21.8" fill="#5cee10"/>
<rect x="1346.6" y="358.5" width="7.3" height="21.8" fill="#fb2bdc"/>
<rect x="1353.3" y="358.5" width="7.3" height="21.8" fill="#8df3de"/>
<rect x="1359.9" y="358.5" width="7.3" height="21.8" fill="#f0fc14"/>
<rect x="1366.5" y="358.5" width="20.5" height="21.8" fill="#b9b9b9"/>
<rect x="1386.3" y="358.5" width="7.3" height="21.8" fill="#88f606"/>
<rect x="1392.9" y="358.5" width="44" height="21.8" fill="#dddddd"/>
<rect x="1452.3" y="355.6" width="66" height="27.6" fill="#000"/>
<rect x="1454.5" y="358.5" width="5.1" height="21.8" fill="#88f606"/>
<rect x="1458.9" y="358.5" width="27.1" height="21.8" fill="#dddddd"/>
<rect x="1485.4" y="358.5" width="7.3" height="21.8" fill="#b9b9b9"/>
<rect x="1492" y="358.5" width="20.5" height="21.8" fill="#dddddd"/>
<rect x="1511.8" y="358.5" width="4.4" height="21.8" fill="#88f606"/>
<rect x="1525" y="355.6" width="587.8" height="27.6" fill="#000"/>
<rect x="1527.2" y="358.5" width="11.7" height="21.8" fill="#dddddd"/>
<rect x="1538.2" y="358.5" width="7.3" height="21.8" fill="#88f606"/>
<rect x="1544.8" y="358.5" width="7.3" height="21.8" fill="#dddddd"/>
<rect x="1551.4" y="358.5" width="13.9" height="21.8" fill="#88f606"/>
<rect x="1564.6" y="358.5" width="7.3" height="21.8" fill="#b9b9b9"/>
<rect x="1571.2" y="358.5" width="80" height="21.8" fill="#dddddd"/>
<rect x="1650.5" y="358.5" width="7.3" height="21.8" fill="#55f24f"/>
<rect x="1657.1" y="358.5" width="13.9" height="21.8" fill="#dddddd"/>
<rect x="1670.3" y="358.5" width="7.3" height="21.8" fill="#b9b9b9"/>
<rect x="1676.9" y="358.5" width="13.9" height="21.8" fill="#dddddd"/>
<rect x="1690.1" y="358.5" width="7.3" height="21.8" fill="#b9b9b9"/>
<rect x="1696.7" y="358.5" width="13.9" height="21.8" fill="#dddddd"/>
<rect x="1709.9" y="358.5" width="7.3" height="21.8" fill="#ff7a22"/>
<rect x="1716.5" y="358.5" width="20.5" height="21.8" fill="#dddddd"/>
<rect x="1736.3" y="358.5" width="7.3" height="21.8" fill="#ff9db0"/>
<rect x="1742.9" y="358.5" width="7.3" height="21.8" fill="#f0fc14"/>
<rect x="1749.6" y="358.5" width="7.3" height="21.8" fill="#88f606"/>
<rect x="1756.2" y="358.5" width="13.9" height="21.8" fill="#b9b9b9"/>
<rect x="1769.4" y="358.5" width="7.3" height="21.8" fill="#ff9db0"/>
<rect x="1776" y="358.5" width="7.3" height="21.8" fill="#88f606"/>
<rect x="1782.6" y="358.5" width="7.3" height="21.8" fill="#ff9db0"/>
<rect x="1789.2" y="358.5" width="13.9" height="21.8" fill="#dddddd"/>
<rect x="1802.4" y="358.5" width="7.3" height="21.8" fill="#c236f7"/>
<rect x="1809" y="358.5" width="7.3" height="21.8" fill="#88f606"/>
<rect x="1815.6" y="358.5" width="7.3" height="21.8" fill="#dddddd"/>
<rect x="1822.2" y="358.5" width="7.3" height="21.8" fill="#b9b9b9"/>
<rect x="1828.8" y="358.5" width="13.9" height="21.8" fill="#dddddd"/>
<rect x="1842" y="358.5" width="7.3" height="21.8" fill="#fb2bdc"/>
<rect x="1848.6" y="358.5" width="20.5" height="21.8" fill="#dddddd"/>
<rect x="1868.4" y="358.5" width="7.3" height="21.8" fill="#b9b9b9"/>
<rect x="1875" y="358.5" width="13.9" height="21.8" fill="#f0fc14"/>
<rect x="1888.3" y="358.5" width="7.3" height="21.8" fill="#dddddd"/>
<rect x="1894.9" y="358.5" width="7.3" height="21.8" fill="#8df3de"/>
<rect x="1901.5" y="358.5" width="7.3" height="21.8" fill="#f0fc14"/>
<rect x="1908.1" y="358.5" width="7.3" height="21.8" fill="#fb2bdc"/>
<rect x="1914.7" y="358.5" width="7.3" height="21.8" fill="#9feafc"/>
<rect x="1921.3" y="358.5" width="7.3" height="21.8" fill="#fdef74"/>
<rect x="1927.9" y="358.5" width="7.3" height="21.8" fill="#fb2bdc"/>
<rect x="1934.5" y="358.5" width="7.3" height="21.8" fill="#ff40a0"/>
<rect x="1941.1" y="358.5" width="7.3" height="21.8" fill="#fb2bdc"/>
<rect x="1947.7" y="358.5" width="7.3" height="21.8" fill="#fdef74"/>
<rect x="1954.3" y="358.5" width="7.3" height="21.8" fill="#f0fc14"/>
<rect x="1960.9" y="358.5" width="7.3" height="21.8" fill="#fdef74"/>
<rect x="1967.5" y="358.5" width="20.5" height="21.8" fill="#dddddd"/>
<rect x="1987.3" y="358.5" width="7.3" height="21.8" fill="#88f606"/>
<rect x="1993.9" y="358.5" width="7.3" height="21.8" fill="#fb2bdc"/>
<rect x="2000.5" y="358.5" width="7.3" height="21.8" fill="#9feafc"/>
<rect x="2007.1" y="358.5" width="7.3" height="21.8" fill="#dddddd"/>
<rect x="2013.8" y="358.5" width="7.3" height="21.8" fill="#c236f7"/>
<rect x="2020.4" y="358.5" width="33.7" height="21.8" fill="#dddddd"/>
<rect x="2053.4" y="358.5" width="20.5" height="21.8" fill="#ff9db0"/>
<rect x="2073.2" y="358.5" width="7.3" height="21.8" fill="#f0fc14"/>
<rect x="2079.8" y="358.5" width="7.3" height="21.8" fill="#ff9db0"/>
<rect x="2086.4" y="358.5" width="7.3" height="21.8" fill="#fdef74"/>
<rect x="2093" y="358.5" width="7.3" height="21.8" fill="#ff9db0"/>
<rect x="2099.6" y="358.5" width="7.3" height="21.8" fill="#fdef74"/>
<rect x="2106.2" y="358.5" width="4.4" height="21.8" fill="#8df3de"/>
</g>
<defs><clipPath id="idclip"><polygon points="240.5,213.6 240.5,183.8 248,183.8 248,193.1 266.5,193.1 266.5,183.8 280,183.8 280,174.6 289,174.6 289,180.8 296,180.8 296,190 302,190 302,193.1 306.5,193.1 306.5,190 315,190 315,196.1 320.5,196.1 320.5,190 327.5,190 327.5,183.8 334,183.8 334,177.7 340.9,177.7 340.9,171.6 346.4,171.6 346.4,168.5 402,168.5 402,171.6 424,171.6 424,174.6 427.1,174.6 427.1,180.8 432.9,180.8 432.9,174.6 446.3,174.6 446.3,180.8 453.1,180.8 453.1,177.7 479,177.7 479,171.6 493.5,171.6 493.5,168.5 500.8,168.5 500.8,171.6 506.2,171.6 506.2,177.7 532.5,177.7 532.5,171.6 537.3,171.6 537.3,168.5 573.9,168.5 573.9,171.6 605.7,171.6 605.7,168.5 705.7,168.5 705.7,171.6 725.6,171.6 725.6,177.7 730.2,177.7 730.2,183.8 736.5,183.8 736.5,177.7 751.4,177.7 751.4,180.8 757.7,180.8 757.7,174.6 770.4,174.6 770.4,180.8 776.9,180.8 776.9,186.9 791.9,186.9 791.9,193.1 798.7,193.1 798.7,199.2 805,199.2 805,202.3 810.8,202.3 810.8,205.3 818.5,205.3 818.5,208.4 823.7,208.4 823.7,211.5 843.9,211.5 843.9,208.4 863.2,208.4 863.2,205.3 881.4,205.3 881.4,202.3 888.2,202.3 888.2,199.2 902.6,199.2 902.6,193.1 909.3,193.1 909.3,186.9 928.6,186.9 928.6,180.8 937.2,180.8 937.2,186.9 943,186.9 943,193.1 948.8,193.1 948.8,186.9 957.8,186.9 957.8,190 962.3,190 962.3,196.1 968,196.1 968,193.1 983.4,193.1 983.4,199.2 988.6,199.2 988.6,196.1 995.9,196.1 995.9,193.1 1002.1,193.1 1002.1,196.1 1014.2,196.1 1014.2,193.1 1021.9,193.1 1021.9,196.1 1029.6,196.1 1029.6,199.2 1047.5,199.2 1047.5,202.3 1054.2,202.3 1054.2,199.2 1100.4,199.2 1100.4,193.1 1119.7,193.1 1119.7,190 1135.1,190 1135.1,196.1 1186.1,196.1 1186.1,193.1 1199.5,193.1 1199.5,190 1214,190 1214,193.1 1220.1,193.1 1220.1,190 1226.9,190 1226.9,186.9 1234.2,186.9 1234.2,193.1 1245.7,193.1 1245.7,190 1254.4,190 1254.4,199.2 1262.5,199.2 1262.5,202.3 1280.4,202.3 1280.4,205.3 1318.5,205.3 1318.5,202.3 1332.9,202.3 1332.9,199.2 1367,199.2 1367,202.3 1372,202.3 1372,199.2 1406,199.2 1406,202.3 1425.3,202.3 1425.3,205.3 1438.2,205.3 1438.2,199.2 1444.5,199.2 1444.5,196.1 1450.9,196.1 1450.9,193.1 1458.4,193.1 1458.4,190 1472.8,190 1472.8,193.1 1478.2,193.1 1478.2,196.1 1483.4,196.1 1483.4,193.1 1496.5,193.1 1496.5,186.9 1505.2,186.9 1505.2,190 1524.4,190 1524.4,186.9 1533.1,186.9 1533.1,190 1558.7,190 1558.7,196.1 1635.6,196.1 1635.6,193.1 1651,193.1 1651,196.1 1654.9,196.1 1654.9,193.1 1668.9,193.1 1668.9,199.2 1676,199.2 1676,193.1 1682.8,193.1 1682.8,190 1692,190 1692,193.1 1696.2,193.1 1696.2,196.1 1701.6,196.1 1701.6,193.1 1709.1,193.1 1709.1,202.3 1741.5,202.3 1741.5,196.1 1769,196.1 1769,199.2 1774.6,199.2 1774.6,202.3 1780.5,202.3 1780.5,199.2 1787.7,199.2 1787.7,193.1 1802.1,193.1 1802.1,190 1822.3,190 1822.3,199.2 1827.5,199.2 1827.5,196.1 1861.9,196.1 1861.9,199.2 1867.1,199.2 1867.1,193.1 1880.6,193.1 1880.6,186.9 1886.4,186.9 1886.4,180.8 1893.5,180.8 1893.5,174.6 1907.5,174.6 1907.5,168.5 1948.9,168.5 1948.9,174.6 1955.1,174.6 1955.1,180.8 1960.5,180.8 1960.5,186.9 1966.6,186.9 1966.6,196.1 1979.3,196.1 1979.3,186.9 1986.8,186.9 1986.8,183.8 1999.3,183.8 1999.3,177.7 2007.6,177.7 2007.6,183.8 2014,183.8 2014,190 2034,190 2034,196.1 2038.4,196.1 2038.4,190 2045.2,190 2045.2,183.8 2052.5,183.8 2052.5,177.7 2059.2,177.7 2059.2,171.6 2066.3,171.6 2066.3,168.5 2102,168.5 2102,213.6"/></clipPath></defs>
<polygon points="240.5,213.6 240.5,183.8 248,183.8 248,193.1 266.5,193.1 266.5,183.8 280,183.8 280,174.6 289,174.6 289,180.8 296,180.8 296,190 302,190 302,193.1 306.5,193.1 306.5,190 315,190 315,196.1 320.5,196.1 320.5,190 327.5,190 327.5,183.8 334,183.8 334,177.7 340.9,177.7 340.9,171.6 346.4,171.6 346.4,168.5 402,168.5 402,171.6 424,171.6 424,174.6 427.1,174.6 427.1,180.8 432.9,180.8 432.9,174.6 446.3,174.6 446.3,180.8 453.1,180.8 453.1,177.7 479,177.7 479,171.6 493.5,171.6 493.5,168.5 500.8,168.5 500.8,171.6 506.2,171.6 506.2,177.7 532.5,177.7 532.5,171.6 537.3,171.6 537.3,168.5 573.9,168.5 573.9,171.6 605.7,171.6 605.7,168.5 705.7,168.5 705.7,171.6 725.6,171.6 725.6,177.7 730.2,177.7 730.2,183.8 736.5,183.8 736.5,177.7 751.4,177.7 751.4,180.8 757.7,180.8 757.7,174.6 770.4,174.6 770.4,180.8 776.9,180.8 776.9,186.9 791.9,186.9 791.9,193.1 798.7,193.1 798.7,199.2 805,199.2 805,202.3 810.8,202.3 810.8,205.3 818.5,205.3 818.5,208.4 823.7,208.4 823.7,211.5 843.9,211.5 843.9,208.4 863.2,208.4 863.2,205.3 881.4,205.3 881.4,202.3 888.2,202.3 888.2,199.2 902.6,199.2 902.6,193.1 909.3,193.1 909.3,186.9 928.6,186.9 928.6,180.8 937.2,180.8 937.2,186.9 943,186.9 943,193.1 948.8,193.1 948.8,186.9 957.8,186.9 957.8,190 962.3,190 962.3,196.1 968,196.1 968,193.1 983.4,193.1 983.4,199.2 988.6,199.2 988.6,196.1 995.9,196.1 995.9,193.1 1002.1,193.1 1002.1,196.1 1014.2,196.1 1014.2,193.1 1021.9,193.1 1021.9,196.1 1029.6,196.1 1029.6,199.2 1047.5,199.2 1047.5,202.3 1054.2,202.3 1054.2,199.2 1100.4,199.2 1100.4,193.1 1119.7,193.1 1119.7,190 1135.1,190 1135.1,196.1 1186.1,196.1 1186.1,193.1 1199.5,193.1 1199.5,190 1214,190 1214,193.1 1220.1,193.1 1220.1,190 1226.9,190 1226.9,186.9 1234.2,186.9 1234.2,193.1 1245.7,193.1 1245.7,190 1254.4,190 1254.4,199.2 1262.5,199.2 1262.5,202.3 1280.4,202.3 1280.4,205.3 1318.5,205.3 1318.5,202.3 1332.9,202.3 1332.9,199.2 1367,199.2 1367,202.3 1372,202.3 1372,199.2 1406,199.2 1406,202.3 1425.3,202.3 1425.3,205.3 1438.2,205.3 1438.2,199.2 1444.5,199.2 1444.5,196.1 1450.9,196.1 1450.9,193.1 1458.4,193.1 1458.4,190 1472.8,190 1472.8,193.1 1478.2,193.1 1478.2,196.1 1483.4,196.1 1483.4,193.1 1496.5,193.1 1496.5,186.9 1505.2,186.9 1505.2,190 1524.4,190 1524.4,186.9 1533.1,186.9 1533.1,190 1558.7,190 1558.7,196.1 1635.6,196.1 1635.6,193.1 1651,193.1 1651,196.1 1654.9,196.1 1654.9,193.1 1668.9,193.1 1668.9,199.2 1676,199.2 1676,193.1 1682.8,193.1 1682.8,190 1692,190 1692,193.1 1696.2,193.1 1696.2,196.1 1701.6,196.1 1701.6,193.1 1709.1,193.1 1709.1,202.3 1741.5,202.3 1741.5,196.1 1769,196.1 1769,199.2 1774.6,199.2 1774.6,202.3 1780.5,202.3 1780.5,199.2 1787.7,199.2 1787.7,193.1 1802.1,193.1 1802.1,190 1822.3,190 1822.3,199.2 1827.5,199.2 1827.5,196.1 1861.9,196.1 1861.9,199.2 1867.1,199.2 1867.1,193.1 1880.6,193.1 1880.6,186.9 1886.4,186.9 1886.4,180.8 1893.5,180.8 1893.5,174.6 1907.5,174.6 1907.5,168.5 1948.9,168.5 1948.9,174.6 1955.1,174.6 1955.1,180.8 1960.5,180.8 1960.5,186.9 1966.6,186.9 1966.6,196.1 1979.3,196.1 1979.3,186.9 1986.8,186.9 1986.8,183.8 1999.3,183.8 1999.3,177.7 2007.6,177.7 2007.6,183.8 2014,183.8 2014,190 2034,190 2034,196.1 2038.4,196.1 2038.4,190 2045.2,190 2045.2,183.8 2052.5,183.8 2052.5,177.7 2059.2,177.7 2059.2,171.6 2066.3,171.6 2066.3,168.5 2102,168.5 2102,213.6" fill="#a9cd05"/>
<g clip-path="url(#idclip)">
<rect x="798.7" y="160" width="103.9" height="60" fill="#ff0a00"/>
<rect x="983.4" y="160" width="5.2" height="60" fill="#ff0a00"/>
<rect x="1021.9" y="160" width="78.5" height="60" fill="#ff0a00"/>
<rect x="1173.2" y="160" width="7.1" height="60" fill="#ff0a00"/>
<rect x="1254.4" y="160" width="190.1" height="60" fill="#ff0a00"/>
<rect x="1668.9" y="160" width="7.1" height="60" fill="#ff0a00"/>
<rect x="1709.1" y="160" width="32.3" height="60" fill="#ff0a00"/>
<rect x="1761.3" y="160" width="26.4" height="60" fill="#ff0a00"/>
<rect x="1822.3" y="160" width="5.2" height="60" fill="#ff0a00"/>
<rect x="1861.9" y="160" width="5.2" height="60" fill="#ff0a00"/>
<rect x="346.4" y="160" width="55.6" height="60" fill="#3dff00"/>
<rect x="493.5" y="160" width="4.4" height="60" fill="#3dff00"/>
<rect x="537.3" y="160" width="36.6" height="60" fill="#3dff00"/>
<rect x="605.7" y="160" width="100.1" height="60" fill="#3dff00"/>
<rect x="1907.5" y="160" width="41.4" height="60" fill="#3dff00"/>
<rect x="2066.3" y="160" width="35.7" height="60" fill="#3dff00"/>
</g>
<rect x="239.7" y="182.8" width="9.1" height="2.8" fill="#000"/>
<rect x="247.2" y="192.1" width="20.1" height="2.8" fill="#000"/>
<rect x="265.7" y="182.8" width="15.1" height="2.8" fill="#000"/>
<rect x="279.2" y="173.6" width="10.6" height="2.8" fill="#000"/>
<rect x="288.2" y="179.8" width="8.6" height="2.8" fill="#000"/>
<rect x="295.2" y="189" width="7.6" height="2.8" fill="#000"/>
<rect x="301.2" y="192.1" width="6.1" height="2.8" fill="#000"/>
<rect x="305.7" y="189" width="10.1" height="2.8" fill="#000"/>
<rect x="314.2" y="195.1" width="7.1" height="2.8" fill="#000"/>
<rect x="319.7" y="189" width="8.6" height="2.8" fill="#000"/>
<rect x="326.7" y="182.8" width="8.1" height="2.8" fill="#000"/>
<rect x="333.2" y="176.7" width="8.5" height="2.8" fill="#000"/>
<rect x="340.1" y="170.6" width="7.1" height="2.8" fill="#000"/>
<rect x="345.6" y="167.5" width="57.2" height="2.8" fill="#000"/>
<rect x="401.2" y="170.6" width="23.6" height="2.8" fill="#000"/>
<rect x="423.2" y="173.6" width="4.7" height="2.8" fill="#000"/>
<rect x="426.3" y="179.8" width="7.4" height="2.8" fill="#000"/>
<rect x="432.1" y="173.6" width="15.1" height="2.8" fill="#000"/>
<rect x="445.5" y="179.8" width="8.3" height="2.8" fill="#000"/>
<rect x="452.3" y="176.7" width="27.6" height="2.8" fill="#000"/>
<rect x="478.2" y="170.6" width="16" height="2.8" fill="#000"/>
<rect x="492.7" y="167.5" width="8.9" height="2.8" fill="#000"/>
<rect x="500" y="170.6" width="7" height="2.8" fill="#000"/>
<rect x="505.4" y="176.7" width="28" height="2.8" fill="#000"/>
<rect x="531.7" y="170.6" width="6.4" height="2.8" fill="#000"/>
<rect x="536.5" y="167.5" width="38.2" height="2.8" fill="#000"/>
<rect x="573.1" y="170.6" width="33.4" height="2.8" fill="#000"/>
<rect x="604.9" y="167.5" width="101.7" height="2.8" fill="#000"/>
<rect x="704.9" y="170.6" width="21.4" height="2.8" fill="#000"/>
<rect x="724.8" y="176.7" width="6.2" height="2.8" fill="#000"/>
<rect x="729.4" y="182.8" width="8" height="2.8" fill="#000"/>
<rect x="735.7" y="176.7" width="16.4" height="2.8" fill="#000"/>
<rect x="750.6" y="179.8" width="8" height="2.8" fill="#000"/>
<rect x="756.9" y="173.6" width="14.3" height="2.8" fill="#000"/>
<rect x="769.6" y="179.8" width="8.1" height="2.8" fill="#000"/>
<rect x="776.1" y="185.9" width="16.6" height="2.8" fill="#000"/>
<rect x="791.1" y="192.1" width="8.3" height="2.8" fill="#000"/>
<rect x="797.9" y="198.2" width="8" height="2.8" fill="#000"/>
<rect x="804.2" y="201.3" width="7.4" height="2.8" fill="#000"/>
<rect x="810" y="204.3" width="9.3" height="2.8" fill="#000"/>
<rect x="817.7" y="207.4" width="6.8" height="2.8" fill="#000"/>
<rect x="822.9" y="210.5" width="21.8" height="2.8" fill="#000"/>
<rect x="843.1" y="207.4" width="20.8" height="2.8" fill="#000"/>
<rect x="862.4" y="204.3" width="19.9" height="2.8" fill="#000"/>
<rect x="880.6" y="201.3" width="8.3" height="2.8" fill="#000"/>
<rect x="887.4" y="198.2" width="16" height="2.8" fill="#000"/>
<rect x="901.8" y="192.1" width="8.3" height="2.8" fill="#000"/>
<rect x="908.5" y="185.9" width="20.8" height="2.8" fill="#000"/>
<rect x="927.8" y="179.8" width="10.3" height="2.8" fill="#000"/>
<rect x="936.4" y="185.9" width="7.4" height="2.8" fill="#000"/>
<rect x="942.2" y="192.1" width="7.4" height="2.8" fill="#000"/>
<rect x="948" y="185.9" width="10.6" height="2.8" fill="#000"/>
<rect x="957" y="189" width="6" height="2.8" fill="#000"/>
<rect x="961.5" y="195.1" width="7.4" height="2.8" fill="#000"/>
<rect x="967.2" y="192.1" width="17" height="2.8" fill="#000"/>
<rect x="982.6" y="198.2" width="6.8" height="2.8" fill="#000"/>
<rect x="987.8" y="195.1" width="8.9" height="2.8" fill="#000"/>
<rect x="995.1" y="192.1" width="7.8" height="2.8" fill="#000"/>
<rect x="1001.3" y="195.1" width="13.7" height="2.8" fill="#000"/>
<rect x="1013.4" y="192.1" width="9.3" height="2.8" fill="#000"/>
<rect x="1021.1" y="195.1" width="9.3" height="2.8" fill="#000"/>
<rect x="1028.8" y="198.2" width="19.5" height="2.8" fill="#000"/>
<rect x="1046.7" y="201.3" width="8.3" height="2.8" fill="#000"/>
<rect x="1053.4" y="198.2" width="47.8" height="2.8" fill="#000"/>
<rect x="1099.6" y="192.1" width="20.8" height="2.8" fill="#000"/>
<rect x="1118.9" y="189" width="17" height="2.8" fill="#000"/>
<rect x="1134.3" y="195.1" width="52.6" height="2.8" fill="#000"/>
<rect x="1185.3" y="192.1" width="15.1" height="2.8" fill="#000"/>
<rect x="1198.7" y="189" width="16" height="2.8" fill="#000"/>
<rect x="1213.2" y="192.1" width="7.8" height="2.8" fill="#000"/>
<rect x="1219.3" y="189" width="8.3" height="2.8" fill="#000"/>
<rect x="1226.1" y="185.9" width="8.9" height="2.8" fill="#000"/>
<rect x="1233.4" y="192.1" width="13.1" height="2.8" fill="#000"/>
<rect x="1244.9" y="189" width="10.3" height="2.8" fill="#000"/>
<rect x="1253.6" y="198.2" width="9.7" height="2.8" fill="#000"/>
<rect x="1261.7" y="201.3" width="19.5" height="2.8" fill="#000"/>
<rect x="1279.6" y="204.3" width="39.7" height="2.8" fill="#000"/>
<rect x="1317.7" y="201.3" width="16" height="2.8" fill="#000"/>
<rect x="1332.1" y="198.2" width="35.7" height="2.8" fill="#000"/>
<rect x="1366.2" y="201.3" width="6.6" height="2.8" fill="#000"/>
<rect x="1371.2" y="198.2" width="35.7" height="2.8" fill="#000"/>
<rect x="1405.2" y="201.3" width="20.8" height="2.8" fill="#000"/>
<rect x="1424.5" y="204.3" width="14.5" height="2.8" fill="#000"/>
<rect x="1437.4" y="198.2" width="8" height="2.8" fill="#000"/>
<rect x="1443.7" y="195.1" width="8" height="2.8" fill="#000"/>
<rect x="1450.1" y="192.1" width="9.1" height="2.8" fill="#000"/>
<rect x="1457.6" y="189" width="16" height="2.8" fill="#000"/>
<rect x="1472" y="192.1" width="7" height="2.8" fill="#000"/>
<rect x="1477.4" y="195.1" width="6.8" height="2.8" fill="#000"/>
<rect x="1482.6" y="192.1" width="14.7" height="2.8" fill="#000"/>
<rect x="1495.7" y="185.9" width="10.3" height="2.8" fill="#000"/>
<rect x="1504.4" y="189" width="20.8" height="2.8" fill="#000"/>
<rect x="1523.6" y="185.9" width="10.3" height="2.8" fill="#000"/>
<rect x="1532.3" y="189" width="27.2" height="2.8" fill="#000"/>
<rect x="1557.9" y="195.1" width="78.6" height="2.8" fill="#000"/>
<rect x="1634.8" y="192.1" width="17" height="2.8" fill="#000"/>
<rect x="1650.2" y="195.1" width="5.4" height="2.8" fill="#000"/>
<rect x="1654.1" y="192.1" width="15.6" height="2.8" fill="#000"/>
<rect x="1668.1" y="198.2" width="8.7" height="2.8" fill="#000"/>
<rect x="1675.2" y="192.1" width="8.3" height="2.8" fill="#000"/>
<rect x="1682" y="189" width="10.8" height="2.8" fill="#000"/>
<rect x="1691.2" y="192.1" width="5.8" height="2.8" fill="#000"/>
<rect x="1695.4" y="195.1" width="7" height="2.8" fill="#000"/>
<rect x="1700.8" y="192.1" width="9.1" height="2.8" fill="#000"/>
<rect x="1708.3" y="201.3" width="33.9" height="2.8" fill="#000"/>
<rect x="1740.7" y="195.1" width="29.1" height="2.8" fill="#000"/>
<rect x="1768.2" y="198.2" width="7.2" height="2.8" fill="#000"/>
<rect x="1773.8" y="201.3" width="7.6" height="2.8" fill="#000"/>
<rect x="1779.7" y="198.2" width="8.7" height="2.8" fill="#000"/>
<rect x="1786.9" y="192.1" width="16" height="2.8" fill="#000"/>
<rect x="1801.3" y="189" width="21.8" height="2.8" fill="#000"/>
<rect x="1821.5" y="198.2" width="6.8" height="2.8" fill="#000"/>
<rect x="1826.7" y="195.1" width="36" height="2.8" fill="#000"/>
<rect x="1861.1" y="198.2" width="6.8" height="2.8" fill="#000"/>
<rect x="1866.3" y="192.1" width="15.1" height="2.8" fill="#000"/>
<rect x="1879.8" y="185.9" width="7.4" height="2.8" fill="#000"/>
<rect x="1885.6" y="179.8" width="8.7" height="2.8" fill="#000"/>
<rect x="1892.7" y="173.6" width="15.6" height="2.8" fill="#000"/>
<rect x="1906.7" y="167.5" width="43" height="2.8" fill="#000"/>
<rect x="1948.1" y="173.6" width="7.8" height="2.8" fill="#000"/>
<rect x="1954.3" y="179.8" width="7" height="2.8" fill="#000"/>
<rect x="1959.7" y="185.9" width="7.8" height="2.8" fill="#000"/>
<rect x="1965.8" y="195.1" width="14.3" height="2.8" fill="#000"/>
<rect x="1978.5" y="185.9" width="9.1" height="2.8" fill="#000"/>
<rect x="1986" y="182.8" width="14.1" height="2.8" fill="#000"/>
<rect x="1998.5" y="176.7" width="9.9" height="2.8" fill="#000"/>
<rect x="2006.8" y="182.8" width="8" height="2.8" fill="#000"/>
<rect x="2013.2" y="189" width="21.6" height="2.8" fill="#000"/>
<rect x="2033.2" y="195.1" width="6" height="2.8" fill="#000"/>
<rect x="2037.6" y="189" width="8.3" height="2.8" fill="#000"/>
<rect x="2044.4" y="182.8" width="8.9" height="2.8" fill="#000"/>
<rect x="2051.7" y="176.7" width="8.3" height="2.8" fill="#000"/>
<rect x="2058.4" y="170.6" width="8.7" height="2.8" fill="#000"/>
<rect x="2065.5" y="167.5" width="37.3" height="2.8" fill="#000"/>
<rect x="240.5" y="211.8" width="1866.5" height="2.8" fill="#000"/>
<rect x="2100.6" y="167.5" width="3.2" height="47.1" fill="#000"/>
<rect x="2100.6" y="167.5" width="6.4" height="2.8" fill="#000"/>
<text x="2112.6" y="178.6" font-size="23.5">100</text>
<text x="2115.3" y="222" font-size="23.5">0</text>
<rect x="339.6" y="402.4" width="423" height="16" fill="#404040"/>
<text x="546" y="449.2" font-size="33.5" text-anchor="middle">Homeodomain</text>
<rect x="1907" y="401.5" width="39.7" height="16" fill="#404040"/>
<text x="1931.4" y="449.3" font-size="33" text-anchor="middle">WUS-box</text>
<text x="294" y="602.2" font-size="46" font-weight="bold">b</text>
<rect x="728.2" y="660.4" width="75.2" height="907.7" fill="#2a7fff"/>
<rect x="815.5" y="1368.9" width="75.2" height="199.2" fill="#27c90a"/>
<rect x="977.7" y="1356.2" width="75.2" height="211.9" fill="#2a7fff"/>
<rect x="1064.6" y="1435.1" width="75.3" height="133" fill="#27c90a"/>
<rect x="1227.8" y="985.6" width="74.8" height="582.5" fill="#2a7fff"/>
<rect x="1314.7" y="1189.8" width="74.9" height="378.3" fill="#27c90a"/>
<rect x="1476.9" y="1558.4" width="75.1" height="9.7" fill="#2a7fff"/>
<rect x="1564" y="1564.8" width="74.9" height="3.3" fill="#27c90a"/>
<rect x="658.6" y="576.9" width="2.6" height="993.3" fill="#111"/>
<rect x="658.6" y="1567.6" width="1049.1" height="2.6" fill="#111"/>
<rect x="650.8" y="626.8" width="8" height="2.4" fill="#111"/>
<rect x="650.8" y="940.1" width="8" height="2.4" fill="#111"/>
<rect x="650.8" y="1253.5" width="8" height="2.4" fill="#111"/>
<rect x="808.2" y="1569" width="2.4" height="8.6" fill="#111"/>
<rect x="1058.4" y="1569" width="2.4" height="8.6" fill="#111"/>
<rect x="1307.2" y="1569" width="2.4" height="8.6" fill="#111"/>
<rect x="1557" y="1569" width="2.4" height="8.6" fill="#111"/>
<text x="641" y="638.8" font-size="34.8" text-anchor="end">0.06</text>
<text x="641" y="952.2" font-size="34.8" text-anchor="end">0.04</text>
<text x="641" y="1265.6" font-size="34.8" text-anchor="end">0.02</text>
<text x="641" y="1578.4" font-size="34.8" text-anchor="end">0</text>
<text x="808.2" y="1606.2" font-size="29.4" font-style="italic" text-anchor="middle">NS1</text>
<text x="1058.3" y="1606.2" font-size="29.4" font-style="italic" text-anchor="middle">NS2</text>
<text x="1305.4" y="1606.2" font-size="29.4" font-style="italic" text-anchor="middle">WOX3A</text>
<text x="1553.4" y="1606.2" font-size="29.4" font-style="italic" text-anchor="middle">WOX3B</text>
<text x="1183.5" y="1659.8" font-size="34.7" text-anchor="middle">Gene</text>
<text transform="translate(538.6 1079) rotate(-90)" font-size="34.3" text-anchor="middle">Mean normalized expression</text>
<circle cx="768.3" cy="635.3" r="5.6" fill="#0a0a0a"/>
<circle cx="761.6" cy="686.8" r="5.6" fill="#0a0a0a"/>
<circle cx="850.2" cy="1369.9" r="5.6" fill="#0a0a0a"/>
<circle cx="861.6" cy="1368.2" r="5.6" fill="#0a0a0a"/>
<circle cx="1017.8" cy="1334.8" r="5.6" fill="#0a0a0a"/>
<circle cx="1015.8" cy="1377.3" r="5.6" fill="#0a0a0a"/>
<circle cx="1110.4" cy="1354.5" r="5.6" fill="#0a0a0a"/>
<circle cx="1104.4" cy="1515.1" r="5.6" fill="#0a0a0a"/>
<circle cx="1266.2" cy="793.2" r="5.6" fill="#0a0a0a"/>
<circle cx="1256.3" cy="1177.3" r="5.6" fill="#0a0a0a"/>
<circle cx="1354.8" cy="1059" r="5.6" fill="#0a0a0a"/>
<circle cx="1353.2" cy="1319.4" r="5.6" fill="#0a0a0a"/>
<circle cx="1512.5" cy="1556.8" r="5.6" fill="#0a0a0a"/>
<circle cx="1512.5" cy="1559.6" r="5.6" fill="#0a0a0a"/>
<circle cx="1600.3" cy="1565" r="5.6" fill="#0a0a0a"/>
<rect x="1501.8" y="1555" width="25" height="2" fill="#111"/>
<rect x="1501.8" y="1559.6" width="25" height="2" fill="#111"/>
<rect x="1589.1" y="1563.2" width="25.1" height="3.6" fill="#111"/>
<rect x="763.8" y="600.5" width="90" height="2.4" rx="1.2" fill="#111"/>
<text x="807" y="602.8" font-size="30.5" text-anchor="middle" stroke="#000" stroke-width="0.5">*</text>
<rect x="1483.3" y="662.5" width="49.5" height="48.8" fill="#2a7fff"/>
<rect x="1483.3" y="716.3" width="49.5" height="48.9" fill="#27c90a"/>
<text x="1551.5" y="697.6" font-size="28.5">WT</text>
<text x="1552" y="751.2" font-size="28.5" font-style="italic">ns1 ns2</text>
</svg>
</body></html>
